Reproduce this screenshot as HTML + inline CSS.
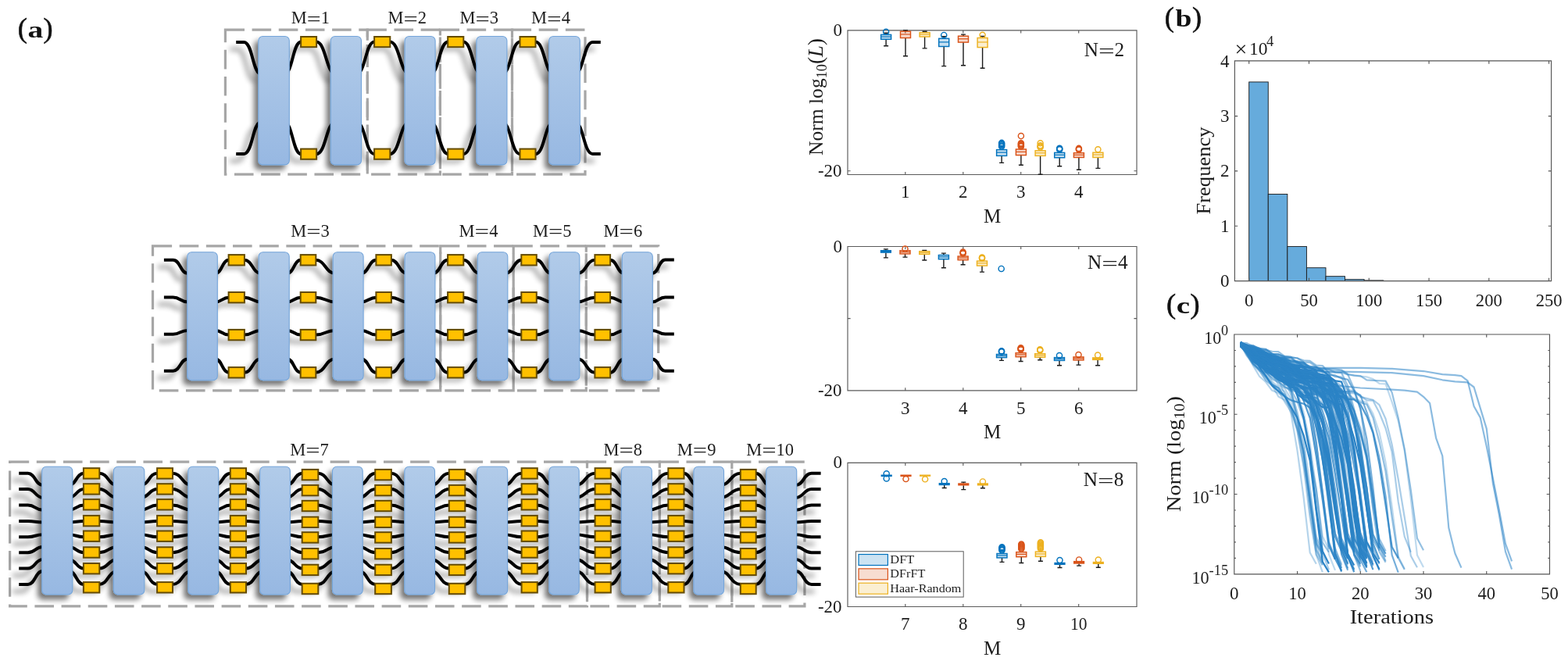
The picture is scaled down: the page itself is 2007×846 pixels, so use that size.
<!DOCTYPE html>
<html lang="en"><head><meta charset="utf-8"><title>Figure</title>
<style>html,body{margin:0;padding:0;background:#fff;overflow:hidden}svg{display:block}text{font-family:"Liberation Serif", serif}</style>
</head><body>
<svg width="2007" height="846" viewBox="0 0 2007 846">
<defs>
<linearGradient id="bl" x1="0" y1="0" x2="0" y2="1"><stop offset="0" stop-color="#b1cbe9"/><stop offset="1" stop-color="#97b8e2"/></linearGradient>
<filter id="shw" x="-5%" y="-10%" width="110%" height="125%"><feGaussianBlur in="SourceAlpha" stdDeviation="3.9"/><feOffset dx="-8.4" dy="9.2"/><feComponentTransfer><feFuncA type="linear" slope="0.45"/></feComponentTransfer><feMerge><feMergeNode/><feMergeNode in="SourceGraphic"/></feMerge></filter>
<filter id="shr" x="-5%" y="-10%" width="110%" height="125%"><feGaussianBlur in="SourceAlpha" stdDeviation="3.7"/><feOffset dx="-5.2" dy="6"/><feComponentTransfer><feFuncA type="linear" slope="0.55"/></feComponentTransfer><feMerge><feMergeNode/><feMergeNode in="SourceGraphic"/></feMerge></filter>
</defs>
<rect width="2007" height="846" fill="#fff"/>
<g id="n2-frames" fill="none" stroke="#a6a6a6" stroke-width="3.2" stroke-dasharray="24.6 9.57">
<rect x="288.4" y="38.2" width="181.9" height="184.9"/>
<rect x="470.3" y="38.2" width="93.1" height="184.9"/>
<rect x="563.4" y="38.2" width="92.1" height="184.9"/>
<rect x="655.5" y="38.2" width="93.5" height="184.9"/>
</g>
<g id="n2-wires" filter="url(#shw)" fill="none" stroke="#000" stroke-width="4">
<path d="M302.2 54 H312.3 C323.3 54 323.3 94.8 334.3 94.8"/>
<path d="M363.8 94.8 C374.6 94.8 374.6 53.6 385.4 53.6 H404.8 C417.3 53.6 417.3 94.8 429.8 94.8"/>
<path d="M456 94.8 C467.7 94.8 467.7 53.6 479.4 53.6 H499 C511.8 53.6 511.8 94.8 524.6 94.8"/>
<path d="M550.6 94.8 C562.05 94.8 562.05 53.6 573.5 53.6 H593 C604.7 53.6 604.7 94.8 616.4 94.8"/>
<path d="M642.4 94.8 C654.1 94.8 654.1 53.6 665.8 53.6 H685.2 C697.2 53.6 697.2 94.8 709.2 94.8"/>
<path d="M735.3 94.8 C746.95 94.8 746.95 54 758.6 54 H768.8"/>
<path d="M302.2 196.9 H312.3 C323.3 196.9 323.3 156 334.3 156"/>
<path d="M363.8 156 C374.6 156 374.6 197.2 385.4 197.2 H404.8 C417.3 197.2 417.3 156 429.8 156"/>
<path d="M456 156 C467.7 156 467.7 197.2 479.4 197.2 H499 C511.8 197.2 511.8 156 524.6 156"/>
<path d="M550.6 156 C562.05 156 562.05 197.2 573.5 197.2 H593 C604.7 197.2 604.7 156 616.4 156"/>
<path d="M642.4 156 C654.1 156 654.1 197.2 665.8 197.2 H685.2 C697.2 197.2 697.2 156 709.2 156"/>
<path d="M735.3 156 C746.95 156 746.95 196.9 758.6 196.9 H768.8"/>
</g>
<g id="n2-blocks" filter="url(#shr)" fill="url(#bl)" stroke="#74a5da" stroke-width="1.1">
<rect x="330.8" y="46.5" width="39.5" height="164.4" rx="5.5" ry="5.5"/>
<rect x="423.3" y="46.5" width="39.2" height="164.4" rx="5.5" ry="5.5"/>
<rect x="518.1" y="46.5" width="39" height="164.4" rx="5.5" ry="5.5"/>
<rect x="609.9" y="46.5" width="39" height="164.4" rx="5.5" ry="5.5"/>
<rect x="702.7" y="46.5" width="39.6" height="164.4" rx="5.5" ry="5.5"/>
</g>
<g id="n2-phase" fill="#ffc000" stroke="#644b00" stroke-width="2">
<rect x="385.1" y="47" width="20" height="13.2"/>
<rect x="385.1" y="190.6" width="20" height="13.2"/>
<rect x="479.1" y="47" width="20.2" height="13.2"/>
<rect x="479.1" y="190.6" width="20.2" height="13.2"/>
<rect x="573.2" y="47" width="20.1" height="13.2"/>
<rect x="573.2" y="190.6" width="20.1" height="13.2"/>
<rect x="665.5" y="47" width="20" height="13.2"/>
<rect x="665.5" y="190.6" width="20" height="13.2"/>
</g>
<text x="372.82" y="29.9" font-size="22.5" fill="#1c1c1c">M<tspan dy="1.69" textLength="17.9" lengthAdjust="spacingAndGlyphs">=</tspan><tspan dy="-1.69">1</tspan></text>
<text x="496.43" y="29.9" font-size="22.5" fill="#1c1c1c">M<tspan dy="1.69" textLength="18.3" lengthAdjust="spacingAndGlyphs">=</tspan><tspan dy="-1.69">2</tspan></text>
<text x="588.52" y="29.9" font-size="22.5" fill="#1c1c1c">M<tspan dy="1.69" textLength="18.3" lengthAdjust="spacingAndGlyphs">=</tspan><tspan dy="-1.69">3</tspan></text>
<text x="680.08" y="29.9" font-size="22.5" fill="#1c1c1c">M<tspan dy="1.69" textLength="18.6" lengthAdjust="spacingAndGlyphs">=</tspan><tspan dy="-1.69">4</tspan></text>
<g id="n4-frames" fill="none" stroke="#a6a6a6" stroke-width="3.2" stroke-dasharray="24.6 9.57">
<rect x="195.5" y="314.9" width="368.2" height="184.9"/>
<rect x="563.7" y="314.9" width="93.5" height="184.9"/>
<rect x="657.2" y="314.9" width="93.1" height="184.9"/>
<rect x="750.3" y="314.9" width="92.4" height="184.9"/>
</g>
<g id="n4-wires" filter="url(#shw)" fill="none" stroke="#000" stroke-width="4">
<path d="M209.9 332.7 H221.5 C230.85 332.7 230.85 349.8 240.2 349.8"/>
<path d="M275.6 349.8 C284.25 349.8 284.25 332.8 292.9 332.8 H312.6 C323.2 332.8 323.2 349.8 333.8 349.8"/>
<path d="M367.5 349.8 C376.25 349.8 376.25 332.8 385 332.8 H404 C416.45 332.8 416.45 349.8 428.9 349.8"/>
<path d="M462.4 349.8 C472.05 349.8 472.05 332.8 481.7 332.8 H500.6 C510.7 332.8 510.7 349.8 520.8 349.8"/>
<path d="M554.2 349.8 C563.8 349.8 563.8 332.8 573.4 332.8 H593 C603.5 332.8 603.5 349.8 614 349.8"/>
<path d="M647.1 349.8 C657.35 349.8 657.35 332.8 667.6 332.8 H686.5 C696.1 332.8 696.1 349.8 705.7 349.8"/>
<path d="M739.1 349.8 C750.4 349.8 750.4 332.8 761.7 332.8 H780.8 C789.9 332.8 789.9 349.8 799 349.8"/>
<path d="M834.8 349.8 C843.15 349.8 843.15 332.5 851.5 332.5 H862.8"/>
<path d="M209.9 380.6 H221.5 C230.85 380.6 230.85 386.4 240.2 386.4"/>
<path d="M275.6 386.4 C284.25 386.4 284.25 380.7 292.9 380.7 H312.6 C323.2 380.7 323.2 386.4 333.8 386.4"/>
<path d="M367.5 386.4 C376.25 386.4 376.25 380.7 385 380.7 H404 C416.45 380.7 416.45 386.4 428.9 386.4"/>
<path d="M462.4 386.4 C472.05 386.4 472.05 380.7 481.7 380.7 H500.6 C510.7 380.7 510.7 386.4 520.8 386.4"/>
<path d="M554.2 386.4 C563.8 386.4 563.8 380.7 573.4 380.7 H593 C603.5 380.7 603.5 386.4 614 386.4"/>
<path d="M647.1 386.4 C657.35 386.4 657.35 380.7 667.6 380.7 H686.5 C696.1 380.7 696.1 386.4 705.7 386.4"/>
<path d="M739.1 386.4 C750.4 386.4 750.4 380.7 761.7 380.7 H780.8 C789.9 380.7 789.9 386.4 799 386.4"/>
<path d="M834.8 386.4 C843.15 386.4 843.15 380.4 851.5 380.4 H862.8"/>
<path d="M209.9 427.7 H221.5 C230.85 427.7 230.85 422.9 240.2 422.9"/>
<path d="M275.6 422.9 C284.25 422.9 284.25 428.6 292.9 428.6 H312.6 C323.2 428.6 323.2 422.9 333.8 422.9"/>
<path d="M367.5 422.9 C376.25 422.9 376.25 428.6 385 428.6 H404 C416.45 428.6 416.45 422.9 428.9 422.9"/>
<path d="M462.4 422.9 C472.05 422.9 472.05 428.6 481.7 428.6 H500.6 C510.7 428.6 510.7 422.9 520.8 422.9"/>
<path d="M554.2 422.9 C563.8 422.9 563.8 428.6 573.4 428.6 H593 C603.5 428.6 603.5 422.9 614 422.9"/>
<path d="M647.1 422.9 C657.35 422.9 657.35 428.6 667.6 428.6 H686.5 C696.1 428.6 696.1 422.9 705.7 422.9"/>
<path d="M739.1 422.9 C750.4 422.9 750.4 428.6 761.7 428.6 H780.8 C789.9 428.6 789.9 422.9 799 422.9"/>
<path d="M834.8 422.9 C843.15 422.9 843.15 427.5 851.5 427.5 H862.8"/>
<path d="M209.9 474.7 H221.5 C230.85 474.7 230.85 459.4 240.2 459.4"/>
<path d="M275.6 459.4 C284.25 459.4 284.25 476.8 292.9 476.8 H312.6 C323.2 476.8 323.2 459.4 333.8 459.4"/>
<path d="M367.5 459.4 C376.25 459.4 376.25 476.8 385 476.8 H404 C416.45 476.8 416.45 459.4 428.9 459.4"/>
<path d="M462.4 459.4 C472.05 459.4 472.05 476.8 481.7 476.8 H500.6 C510.7 476.8 510.7 459.4 520.8 459.4"/>
<path d="M554.2 459.4 C563.8 459.4 563.8 476.8 573.4 476.8 H593 C603.5 476.8 603.5 459.4 614 459.4"/>
<path d="M647.1 459.4 C657.35 459.4 657.35 476.8 667.6 476.8 H686.5 C696.1 476.8 696.1 459.4 705.7 459.4"/>
<path d="M739.1 459.4 C750.4 459.4 750.4 476.8 761.7 476.8 H780.8 C789.9 476.8 789.9 459.4 799 459.4"/>
<path d="M834.8 459.4 C843.15 459.4 843.15 474.8 851.5 474.8 H862.8"/>
</g>
<g id="n4-blocks" filter="url(#shr)" fill="url(#bl)" stroke="#74a5da" stroke-width="1.1">
<rect x="239.7" y="322.8" width="38.6" height="163.9" rx="5.5" ry="5.5"/>
<rect x="331.1" y="322.8" width="39.1" height="163.9" rx="5.5" ry="5.5"/>
<rect x="426.2" y="322.8" width="38.9" height="163.9" rx="5.5" ry="5.5"/>
<rect x="518.1" y="322.8" width="38.8" height="163.9" rx="5.5" ry="5.5"/>
<rect x="611.3" y="322.8" width="38.5" height="163.9" rx="5.5" ry="5.5"/>
<rect x="703" y="322.8" width="38.8" height="163.9" rx="5.5" ry="5.5"/>
<rect x="796.3" y="322.8" width="39" height="163.9" rx="5.5" ry="5.5"/>
</g>
<g id="n4-phase" fill="#ffc000" stroke="#644b00" stroke-width="2">
<rect x="292.6" y="326.1" width="20.3" height="13.4"/>
<rect x="292.6" y="374" width="20.3" height="13.4"/>
<rect x="292.6" y="421.9" width="20.3" height="13.4"/>
<rect x="292.6" y="470.1" width="20.3" height="13.4"/>
<rect x="384.7" y="326.1" width="19.6" height="13.4"/>
<rect x="384.7" y="374" width="19.6" height="13.4"/>
<rect x="384.7" y="421.9" width="19.6" height="13.4"/>
<rect x="384.7" y="470.1" width="19.6" height="13.4"/>
<rect x="481.4" y="326.1" width="19.5" height="13.4"/>
<rect x="481.4" y="374" width="19.5" height="13.4"/>
<rect x="481.4" y="421.9" width="19.5" height="13.4"/>
<rect x="481.4" y="470.1" width="19.5" height="13.4"/>
<rect x="573.1" y="326.1" width="20.2" height="13.4"/>
<rect x="573.1" y="374" width="20.2" height="13.4"/>
<rect x="573.1" y="421.9" width="20.2" height="13.4"/>
<rect x="573.1" y="470.1" width="20.2" height="13.4"/>
<rect x="667.3" y="326.1" width="19.5" height="13.4"/>
<rect x="667.3" y="374" width="19.5" height="13.4"/>
<rect x="667.3" y="421.9" width="19.5" height="13.4"/>
<rect x="667.3" y="470.1" width="19.5" height="13.4"/>
<rect x="761.4" y="326.1" width="19.7" height="13.4"/>
<rect x="761.4" y="374" width="19.7" height="13.4"/>
<rect x="761.4" y="421.9" width="19.7" height="13.4"/>
<rect x="761.4" y="470.1" width="19.7" height="13.4"/>
</g>
<text x="372.23" y="302.6" font-size="22.5" fill="#1c1c1c">M<tspan dy="1.69" textLength="18.3" lengthAdjust="spacingAndGlyphs">=</tspan><tspan dy="-1.69">3</tspan></text>
<text x="587.58" y="302.6" font-size="22.5" fill="#1c1c1c">M<tspan dy="1.69" textLength="18.6" lengthAdjust="spacingAndGlyphs">=</tspan><tspan dy="-1.69">4</tspan></text>
<text x="681.93" y="302.6" font-size="22.5" fill="#1c1c1c">M<tspan dy="1.69" textLength="18.3" lengthAdjust="spacingAndGlyphs">=</tspan><tspan dy="-1.69">5</tspan></text>
<text x="772.62" y="302.6" font-size="22.5" fill="#1c1c1c">M<tspan dy="1.69" textLength="18.3" lengthAdjust="spacingAndGlyphs">=</tspan><tspan dy="-1.69">6</tspan></text>
<g id="n8-frames" fill="none" stroke="#a6a6a6" stroke-width="3.2" stroke-dasharray="24.6 9.57">
<rect x="12.6" y="591.2" width="738.9" height="184.6"/>
<rect x="751.5" y="591.2" width="92.8" height="184.6"/>
<rect x="844.3" y="591.2" width="92.5" height="184.6"/>
<rect x="936.8" y="591.2" width="93.1" height="184.6"/>
</g>
<g id="n8-wires" filter="url(#shw)" fill="none" stroke="#000" stroke-width="4">
<path d="M24.2 605.7 H35.7 C45.2 605.7 45.2 621 54.7 621"/>
<path d="M88.1 621 C97.65 621 97.65 605.7 107.2 605.7 H127 C138.55 605.7 138.55 621 150.1 621"/>
<path d="M180.1 621 C190.75 621 190.75 605.7 201.4 605.7 H220.7 C233.1 605.7 233.1 621 245.5 621"/>
<path d="M275 621 C285.05 621 285.05 605.7 295.1 605.7 H314.7 C326.05 605.7 326.05 621 337.4 621"/>
<path d="M366.7 621 C376.85 621 376.85 605.7 387 605.7 H407 C418.6 605.7 418.6 621 430.2 621"/>
<path d="M459.5 621 C470 621 470 605.7 480.5 605.7 H500.6 C511.55 605.7 511.55 621 522.5 621"/>
<path d="M551.8 621 C563.45 621 563.45 605.7 575.1 605.7 H595 C605.2 605.7 605.2 621 615.4 621"/>
<path d="M644.9 621 C656.4 621 656.4 605.7 667.9 605.7 H687.5 C697.55 605.7 697.55 621 707.6 621"/>
<path d="M736.5 621 C749.2 621 749.2 605.7 761.9 605.7 H781.5 C790.8 605.7 790.8 621 800.1 621"/>
<path d="M829.6 621 C842.6 621 842.6 605.7 855.6 605.7 H875.2 C883.9 605.7 883.9 621 892.6 621"/>
<path d="M921.8 621 C934.95 621 934.95 605.7 948.1 605.7 H967.4 C976.4 605.7 976.4 621 985.4 621"/>
<path d="M1018.7 621 C1028.7 621 1028.7 605.7 1038.7 605.7 H1050.6"/>
<path d="M24.2 626.1 H35.7 C45.2 626.1 45.2 636.9 54.7 636.9"/>
<path d="M88.1 636.9 C97.65 636.9 97.65 626.1 107.2 626.1 H127 C138.55 626.1 138.55 636.9 150.1 636.9"/>
<path d="M180.1 636.9 C190.75 636.9 190.75 626.1 201.4 626.1 H220.7 C233.1 626.1 233.1 636.9 245.5 636.9"/>
<path d="M275 636.9 C285.05 636.9 285.05 626.1 295.1 626.1 H314.7 C326.05 626.1 326.05 636.9 337.4 636.9"/>
<path d="M366.7 636.9 C376.85 636.9 376.85 626.1 387 626.1 H407 C418.6 626.1 418.6 636.9 430.2 636.9"/>
<path d="M459.5 636.9 C470 636.9 470 626.1 480.5 626.1 H500.6 C511.55 626.1 511.55 636.9 522.5 636.9"/>
<path d="M551.8 636.9 C563.45 636.9 563.45 626.1 575.1 626.1 H595 C605.2 626.1 605.2 636.9 615.4 636.9"/>
<path d="M644.9 636.9 C656.4 636.9 656.4 626.1 667.9 626.1 H687.5 C697.55 626.1 697.55 636.9 707.6 636.9"/>
<path d="M736.5 636.9 C749.2 636.9 749.2 626.1 761.9 626.1 H781.5 C790.8 626.1 790.8 636.9 800.1 636.9"/>
<path d="M829.6 636.9 C842.6 636.9 842.6 626.1 855.6 626.1 H875.2 C883.9 626.1 883.9 636.9 892.6 636.9"/>
<path d="M921.8 636.9 C934.95 636.9 934.95 626.1 948.1 626.1 H967.4 C976.4 626.1 976.4 636.9 985.4 636.9"/>
<path d="M1018.7 636.9 C1028.7 636.9 1028.7 626.1 1038.7 626.1 H1050.6"/>
<path d="M24.2 646.5 H35.7 C45.2 646.5 45.2 652.7 54.7 652.7"/>
<path d="M88.1 652.7 C97.65 652.7 97.65 646.5 107.2 646.5 H127 C138.55 646.5 138.55 652.7 150.1 652.7"/>
<path d="M180.1 652.7 C190.75 652.7 190.75 646.5 201.4 646.5 H220.7 C233.1 646.5 233.1 652.7 245.5 652.7"/>
<path d="M275 652.7 C285.05 652.7 285.05 646.5 295.1 646.5 H314.7 C326.05 646.5 326.05 652.7 337.4 652.7"/>
<path d="M366.7 652.7 C376.85 652.7 376.85 646.5 387 646.5 H407 C418.6 646.5 418.6 652.7 430.2 652.7"/>
<path d="M459.5 652.7 C470 652.7 470 646.5 480.5 646.5 H500.6 C511.55 646.5 511.55 652.7 522.5 652.7"/>
<path d="M551.8 652.7 C563.45 652.7 563.45 646.5 575.1 646.5 H595 C605.2 646.5 605.2 652.7 615.4 652.7"/>
<path d="M644.9 652.7 C656.4 652.7 656.4 646.5 667.9 646.5 H687.5 C697.55 646.5 697.55 652.7 707.6 652.7"/>
<path d="M736.5 652.7 C749.2 652.7 749.2 646.5 761.9 646.5 H781.5 C790.8 646.5 790.8 652.7 800.1 652.7"/>
<path d="M829.6 652.7 C842.6 652.7 842.6 646.5 855.6 646.5 H875.2 C883.9 646.5 883.9 652.7 892.6 652.7"/>
<path d="M921.8 652.7 C934.95 652.7 934.95 646.5 948.1 646.5 H967.4 C976.4 646.5 976.4 652.7 985.4 652.7"/>
<path d="M1018.7 652.7 C1028.7 652.7 1028.7 646.5 1038.7 646.5 H1050.6"/>
<path d="M24.2 666.9 H35.7 C45.2 666.9 45.2 668.5 54.7 668.5"/>
<path d="M88.1 668.5 C97.65 668.5 97.65 666.9 107.2 666.9 H127 C138.55 666.9 138.55 668.5 150.1 668.5"/>
<path d="M180.1 668.5 C190.75 668.5 190.75 666.9 201.4 666.9 H220.7 C233.1 666.9 233.1 668.5 245.5 668.5"/>
<path d="M275 668.5 C285.05 668.5 285.05 666.9 295.1 666.9 H314.7 C326.05 666.9 326.05 668.5 337.4 668.5"/>
<path d="M366.7 668.5 C376.85 668.5 376.85 666.9 387 666.9 H407 C418.6 666.9 418.6 668.5 430.2 668.5"/>
<path d="M459.5 668.5 C470 668.5 470 666.9 480.5 666.9 H500.6 C511.55 666.9 511.55 668.5 522.5 668.5"/>
<path d="M551.8 668.5 C563.45 668.5 563.45 666.9 575.1 666.9 H595 C605.2 666.9 605.2 668.5 615.4 668.5"/>
<path d="M644.9 668.5 C656.4 668.5 656.4 666.9 667.9 666.9 H687.5 C697.55 666.9 697.55 668.5 707.6 668.5"/>
<path d="M736.5 668.5 C749.2 668.5 749.2 666.9 761.9 666.9 H781.5 C790.8 666.9 790.8 668.5 800.1 668.5"/>
<path d="M829.6 668.5 C842.6 668.5 842.6 666.9 855.6 666.9 H875.2 C883.9 666.9 883.9 668.5 892.6 668.5"/>
<path d="M921.8 668.5 C934.95 668.5 934.95 666.9 948.1 666.9 H967.4 C976.4 666.9 976.4 668.5 985.4 668.5"/>
<path d="M1018.7 668.5 C1028.7 668.5 1028.7 666.9 1038.7 666.9 H1050.6"/>
<path d="M24.2 687.2 H35.7 C45.2 687.2 45.2 684.3 54.7 684.3"/>
<path d="M88.1 684.3 C97.65 684.3 97.65 687.2 107.2 687.2 H127 C138.55 687.2 138.55 684.3 150.1 684.3"/>
<path d="M180.1 684.3 C190.75 684.3 190.75 687.2 201.4 687.2 H220.7 C233.1 687.2 233.1 684.3 245.5 684.3"/>
<path d="M275 684.3 C285.05 684.3 285.05 687.2 295.1 687.2 H314.7 C326.05 687.2 326.05 684.3 337.4 684.3"/>
<path d="M366.7 684.3 C376.85 684.3 376.85 687.2 387 687.2 H407 C418.6 687.2 418.6 684.3 430.2 684.3"/>
<path d="M459.5 684.3 C470 684.3 470 687.2 480.5 687.2 H500.6 C511.55 687.2 511.55 684.3 522.5 684.3"/>
<path d="M551.8 684.3 C563.45 684.3 563.45 687.2 575.1 687.2 H595 C605.2 687.2 605.2 684.3 615.4 684.3"/>
<path d="M644.9 684.3 C656.4 684.3 656.4 687.2 667.9 687.2 H687.5 C697.55 687.2 697.55 684.3 707.6 684.3"/>
<path d="M736.5 684.3 C749.2 684.3 749.2 687.2 761.9 687.2 H781.5 C790.8 687.2 790.8 684.3 800.1 684.3"/>
<path d="M829.6 684.3 C842.6 684.3 842.6 687.2 855.6 687.2 H875.2 C883.9 687.2 883.9 684.3 892.6 684.3"/>
<path d="M921.8 684.3 C934.95 684.3 934.95 687.2 948.1 687.2 H967.4 C976.4 687.2 976.4 684.3 985.4 684.3"/>
<path d="M1018.7 684.3 C1028.7 684.3 1028.7 687.2 1038.7 687.2 H1050.6"/>
<path d="M24.2 707.2 H35.7 C45.2 707.2 45.2 700.1 54.7 700.1"/>
<path d="M88.1 700.1 C97.65 700.1 97.65 707.2 107.2 707.2 H127 C138.55 707.2 138.55 700.1 150.1 700.1"/>
<path d="M180.1 700.1 C190.75 700.1 190.75 707.2 201.4 707.2 H220.7 C233.1 707.2 233.1 700.1 245.5 700.1"/>
<path d="M275 700.1 C285.05 700.1 285.05 707.2 295.1 707.2 H314.7 C326.05 707.2 326.05 700.1 337.4 700.1"/>
<path d="M366.7 700.1 C376.85 700.1 376.85 707.2 387 707.2 H407 C418.6 707.2 418.6 700.1 430.2 700.1"/>
<path d="M459.5 700.1 C470 700.1 470 707.2 480.5 707.2 H500.6 C511.55 707.2 511.55 700.1 522.5 700.1"/>
<path d="M551.8 700.1 C563.45 700.1 563.45 707.2 575.1 707.2 H595 C605.2 707.2 605.2 700.1 615.4 700.1"/>
<path d="M644.9 700.1 C656.4 700.1 656.4 707.2 667.9 707.2 H687.5 C697.55 707.2 697.55 700.1 707.6 700.1"/>
<path d="M736.5 700.1 C749.2 700.1 749.2 707.2 761.9 707.2 H781.5 C790.8 707.2 790.8 700.1 800.1 700.1"/>
<path d="M829.6 700.1 C842.6 700.1 842.6 707.2 855.6 707.2 H875.2 C883.9 707.2 883.9 700.1 892.6 700.1"/>
<path d="M921.8 700.1 C934.95 700.1 934.95 707.2 948.1 707.2 H967.4 C976.4 707.2 976.4 700.1 985.4 700.1"/>
<path d="M1018.7 700.1 C1028.7 700.1 1028.7 707.2 1038.7 707.2 H1050.6"/>
<path d="M24.2 727.6 H35.7 C45.2 727.6 45.2 715.9 54.7 715.9"/>
<path d="M88.1 715.9 C97.65 715.9 97.65 727.6 107.2 727.6 H127 C138.55 727.6 138.55 715.9 150.1 715.9"/>
<path d="M180.1 715.9 C190.75 715.9 190.75 727.6 201.4 727.6 H220.7 C233.1 727.6 233.1 715.9 245.5 715.9"/>
<path d="M275 715.9 C285.05 715.9 285.05 727.6 295.1 727.6 H314.7 C326.05 727.6 326.05 715.9 337.4 715.9"/>
<path d="M366.7 715.9 C376.85 715.9 376.85 727.6 387 727.6 H407 C418.6 727.6 418.6 715.9 430.2 715.9"/>
<path d="M459.5 715.9 C470 715.9 470 727.6 480.5 727.6 H500.6 C511.55 727.6 511.55 715.9 522.5 715.9"/>
<path d="M551.8 715.9 C563.45 715.9 563.45 727.6 575.1 727.6 H595 C605.2 727.6 605.2 715.9 615.4 715.9"/>
<path d="M644.9 715.9 C656.4 715.9 656.4 727.6 667.9 727.6 H687.5 C697.55 727.6 697.55 715.9 707.6 715.9"/>
<path d="M736.5 715.9 C749.2 715.9 749.2 727.6 761.9 727.6 H781.5 C790.8 727.6 790.8 715.9 800.1 715.9"/>
<path d="M829.6 715.9 C842.6 715.9 842.6 727.6 855.6 727.6 H875.2 C883.9 727.6 883.9 715.9 892.6 715.9"/>
<path d="M921.8 715.9 C934.95 715.9 934.95 727.6 948.1 727.6 H967.4 C976.4 727.6 976.4 715.9 985.4 715.9"/>
<path d="M1018.7 715.9 C1028.7 715.9 1028.7 727.6 1038.7 727.6 H1050.6"/>
<path d="M24.2 747.9 H35.7 C45.2 747.9 45.2 731 54.7 731"/>
<path d="M88.1 731 C97.65 731 97.65 747.9 107.2 747.9 H127 C138.55 747.9 138.55 731 150.1 731"/>
<path d="M180.1 731 C190.75 731 190.75 747.9 201.4 747.9 H220.7 C233.1 747.9 233.1 731 245.5 731"/>
<path d="M275 731 C285.05 731 285.05 747.9 295.1 747.9 H314.7 C326.05 747.9 326.05 731 337.4 731"/>
<path d="M366.7 731 C376.85 731 376.85 747.9 387 747.9 H407 C418.6 747.9 418.6 731 430.2 731"/>
<path d="M459.5 731 C470 731 470 747.9 480.5 747.9 H500.6 C511.55 747.9 511.55 731 522.5 731"/>
<path d="M551.8 731 C563.45 731 563.45 747.9 575.1 747.9 H595 C605.2 747.9 605.2 731 615.4 731"/>
<path d="M644.9 731 C656.4 731 656.4 747.9 667.9 747.9 H687.5 C697.55 747.9 697.55 731 707.6 731"/>
<path d="M736.5 731 C749.2 731 749.2 747.9 761.9 747.9 H781.5 C790.8 747.9 790.8 731 800.1 731"/>
<path d="M829.6 731 C842.6 731 842.6 747.9 855.6 747.9 H875.2 C883.9 747.9 883.9 731 892.6 731"/>
<path d="M921.8 731 C934.95 731 934.95 747.9 948.1 747.9 H967.4 C976.4 747.9 976.4 731 985.4 731"/>
<path d="M1018.7 731 C1028.7 731 1028.7 747.9 1038.7 747.9 H1050.6"/>
</g>
<g id="n8-blocks" filter="url(#shr)" fill="url(#bl)" stroke="#74a5da" stroke-width="1.1">
<rect x="53.7" y="597.2" width="39.1" height="163.8" rx="5.5" ry="5.5"/>
<rect x="145.4" y="597.2" width="39.4" height="163.8" rx="5.5" ry="5.5"/>
<rect x="240.8" y="597.2" width="38.9" height="163.8" rx="5.5" ry="5.5"/>
<rect x="332.7" y="597.2" width="38.7" height="163.8" rx="5.5" ry="5.5"/>
<rect x="425.5" y="597.2" width="38.7" height="163.8" rx="5.5" ry="5.5"/>
<rect x="517.8" y="597.2" width="38.7" height="163.8" rx="5.5" ry="5.5"/>
<rect x="610.7" y="597.2" width="38.9" height="163.8" rx="5.5" ry="5.5"/>
<rect x="702.9" y="597.2" width="38.3" height="163.8" rx="5.5" ry="5.5"/>
<rect x="795.4" y="597.2" width="38.9" height="163.8" rx="5.5" ry="5.5"/>
<rect x="887.9" y="597.2" width="38.6" height="163.8" rx="5.5" ry="5.5"/>
<rect x="980.7" y="597.2" width="39" height="163.8" rx="5.5" ry="5.5"/>
</g>
<g id="n8-phase" fill="#ffc000" stroke="#644b00" stroke-width="2">
<rect x="106.9" y="599.2" width="20.4" height="13.4"/>
<rect x="106.9" y="619.2" width="20.4" height="13.4"/>
<rect x="106.9" y="639.1" width="20.4" height="13.4"/>
<rect x="106.9" y="659.9" width="20.4" height="13.4"/>
<rect x="106.9" y="679.5" width="20.4" height="13.4"/>
<rect x="106.9" y="700.3" width="20.4" height="13.4"/>
<rect x="106.9" y="721" width="20.4" height="13.4"/>
<rect x="106.9" y="745.1" width="20.4" height="13.4"/>
<rect x="201.1" y="599.2" width="19.9" height="13.4"/>
<rect x="201.1" y="619.2" width="19.9" height="13.4"/>
<rect x="201.1" y="639.1" width="19.9" height="13.4"/>
<rect x="201.1" y="659.9" width="19.9" height="13.4"/>
<rect x="201.1" y="679.5" width="19.9" height="13.4"/>
<rect x="201.1" y="700.3" width="19.9" height="13.4"/>
<rect x="201.1" y="721" width="19.9" height="13.4"/>
<rect x="201.1" y="745.1" width="19.9" height="13.4"/>
<rect x="294.8" y="599.2" width="20.2" height="13.4"/>
<rect x="294.8" y="619.2" width="20.2" height="13.4"/>
<rect x="294.8" y="639.1" width="20.2" height="13.4"/>
<rect x="294.8" y="659.9" width="20.2" height="13.4"/>
<rect x="294.8" y="679.5" width="20.2" height="13.4"/>
<rect x="294.8" y="700.3" width="20.2" height="13.4"/>
<rect x="294.8" y="721" width="20.2" height="13.4"/>
<rect x="294.8" y="745.1" width="20.2" height="13.4"/>
<rect x="386.7" y="600.9" width="20.6" height="13.4"/>
<rect x="386.7" y="620.9" width="20.6" height="13.4"/>
<rect x="386.7" y="640.8" width="20.6" height="13.4"/>
<rect x="386.7" y="661.6" width="20.6" height="13.4"/>
<rect x="386.7" y="681.2" width="20.6" height="13.4"/>
<rect x="386.7" y="702" width="20.6" height="13.4"/>
<rect x="386.7" y="722.7" width="20.6" height="13.4"/>
<rect x="386.7" y="746.8" width="20.6" height="13.4"/>
<rect x="480.2" y="600.9" width="20.7" height="13.4"/>
<rect x="480.2" y="620.9" width="20.7" height="13.4"/>
<rect x="480.2" y="640.8" width="20.7" height="13.4"/>
<rect x="480.2" y="661.6" width="20.7" height="13.4"/>
<rect x="480.2" y="681.2" width="20.7" height="13.4"/>
<rect x="480.2" y="702" width="20.7" height="13.4"/>
<rect x="480.2" y="722.7" width="20.7" height="13.4"/>
<rect x="480.2" y="746.8" width="20.7" height="13.4"/>
<rect x="574.8" y="600.9" width="20.5" height="13.4"/>
<rect x="574.8" y="620.9" width="20.5" height="13.4"/>
<rect x="574.8" y="640.8" width="20.5" height="13.4"/>
<rect x="574.8" y="661.6" width="20.5" height="13.4"/>
<rect x="574.8" y="681.2" width="20.5" height="13.4"/>
<rect x="574.8" y="702" width="20.5" height="13.4"/>
<rect x="574.8" y="722.7" width="20.5" height="13.4"/>
<rect x="574.8" y="746.8" width="20.5" height="13.4"/>
<rect x="667.6" y="599.2" width="20.2" height="13.4"/>
<rect x="667.6" y="619.2" width="20.2" height="13.4"/>
<rect x="667.6" y="639.1" width="20.2" height="13.4"/>
<rect x="667.6" y="659.9" width="20.2" height="13.4"/>
<rect x="667.6" y="679.5" width="20.2" height="13.4"/>
<rect x="667.6" y="700.3" width="20.2" height="13.4"/>
<rect x="667.6" y="721" width="20.2" height="13.4"/>
<rect x="667.6" y="745.1" width="20.2" height="13.4"/>
<rect x="761.6" y="599.2" width="20.2" height="13.4"/>
<rect x="761.6" y="619.2" width="20.2" height="13.4"/>
<rect x="761.6" y="639.1" width="20.2" height="13.4"/>
<rect x="761.6" y="659.9" width="20.2" height="13.4"/>
<rect x="761.6" y="679.5" width="20.2" height="13.4"/>
<rect x="761.6" y="700.3" width="20.2" height="13.4"/>
<rect x="761.6" y="721" width="20.2" height="13.4"/>
<rect x="761.6" y="745.1" width="20.2" height="13.4"/>
<rect x="855.3" y="599.2" width="20.2" height="13.4"/>
<rect x="855.3" y="619.2" width="20.2" height="13.4"/>
<rect x="855.3" y="639.1" width="20.2" height="13.4"/>
<rect x="855.3" y="659.9" width="20.2" height="13.4"/>
<rect x="855.3" y="679.5" width="20.2" height="13.4"/>
<rect x="855.3" y="700.3" width="20.2" height="13.4"/>
<rect x="855.3" y="721" width="20.2" height="13.4"/>
<rect x="855.3" y="745.1" width="20.2" height="13.4"/>
<rect x="947.8" y="600.9" width="19.9" height="13.4"/>
<rect x="947.8" y="620.9" width="19.9" height="13.4"/>
<rect x="947.8" y="640.8" width="19.9" height="13.4"/>
<rect x="947.8" y="661.6" width="19.9" height="13.4"/>
<rect x="947.8" y="681.2" width="19.9" height="13.4"/>
<rect x="947.8" y="702" width="19.9" height="13.4"/>
<rect x="947.8" y="722.7" width="19.9" height="13.4"/>
<rect x="947.8" y="746.8" width="19.9" height="13.4"/>
</g>
<text x="371.23" y="582.6" font-size="22.5" fill="#1c1c1c">M<tspan dy="1.69" textLength="18.3" lengthAdjust="spacingAndGlyphs">=</tspan><tspan dy="-1.69">7</tspan></text>
<text x="772.52" y="582.6" font-size="22.5" fill="#1c1c1c">M<tspan dy="1.69" textLength="18.3" lengthAdjust="spacingAndGlyphs">=</tspan><tspan dy="-1.69">8</tspan></text>
<text x="866.83" y="582.6" font-size="22.5" fill="#1c1c1c">M<tspan dy="1.69" textLength="18.3" lengthAdjust="spacingAndGlyphs">=</tspan><tspan dy="-1.69">9</tspan></text>
<text x="955.18" y="582.6" font-size="22.5" fill="#1c1c1c">M<tspan dy="1.69" textLength="18.35" lengthAdjust="spacingAndGlyphs">=</tspan><tspan dy="-1.69">10</tspan></text>
<g id="bp2">
<path d="M1085 38.8 H1455 V223.5 H1085 ZM1158.8 223.5 v-3.6M1158.8 38.8 v3.6M1232.8 223.5 v-3.6M1232.8 38.8 v3.6M1306.7 223.5 v-3.6M1306.7 38.8 v3.6M1380.7 223.5 v-3.6M1380.7 38.8 v3.6M1085 218.7 h3.6M1455 218.7 h-3.6" fill="none" stroke="#5a5a5a" stroke-width="1.15"/>
<path d="M1134.1 50.3 V58.7 M1131.1 58.7 h6M1134.1 44.4 V42.3 M1131.1 42.3 h6" fill="none" stroke="#1a1a1a" stroke-width="1.4"/>
<circle cx="1134.1" cy="40.7" r="3.55" fill="none" stroke="#0072bd" stroke-width="1.45"/>
<rect x="1127.6" y="44.4" width="13" height="5.9" fill="#0072bd" fill-opacity="0.22" stroke="#0072bd" stroke-width="1.45"/>
<path d="M1127.6 47.05h13" stroke="#0072bd" stroke-width="1.2"/>
<path d="M1159 48.5 V71.8 M1156 71.8 h6M1159 40.2 V38.8 M1156 38.8 h6" fill="none" stroke="#1a1a1a" stroke-width="1.4"/>
<rect x="1152.5" y="40.2" width="13" height="8.3" fill="#d95319" fill-opacity="0.22" stroke="#d95319" stroke-width="1.45"/>
<path d="M1152.5 43.94h13" stroke="#d95319" stroke-width="1.2"/>
<path d="M1183.6 47 V61.9 M1180.6 61.9 h6M1183.6 41.7 V40.2 M1180.6 40.2 h6" fill="none" stroke="#1a1a1a" stroke-width="1.4"/>
<rect x="1177.1" y="41.7" width="13" height="5.3" fill="#edb120" fill-opacity="0.22" stroke="#edb120" stroke-width="1.45"/>
<path d="M1177.1 44.09h13" stroke="#edb120" stroke-width="1.2"/>
<path d="M1208.2 59.5 V84.6 M1205.2 84.6 h6M1208.2 49.3 V46.7 M1205.2 46.7 h6" fill="none" stroke="#1a1a1a" stroke-width="1.4"/>
<circle cx="1208.2" cy="44.9" r="3.55" fill="none" stroke="#0072bd" stroke-width="1.45"/>
<rect x="1201.7" y="49.3" width="13" height="10.2" fill="#0072bd" fill-opacity="0.22" stroke="#0072bd" stroke-width="1.45"/>
<path d="M1201.7 53.89h13" stroke="#0072bd" stroke-width="1.2"/>
<path d="M1233 54.1 V83.8 M1230 83.8 h6M1233 46.2 V44.1 M1230 44.1 h6" fill="none" stroke="#1a1a1a" stroke-width="1.4"/>
<rect x="1226.5" y="46.2" width="13" height="7.9" fill="#d95319" fill-opacity="0.22" stroke="#d95319" stroke-width="1.45"/>
<path d="M1226.5 49.76h13" stroke="#d95319" stroke-width="1.2"/>
<path d="M1257.6 60.6 V87.2 M1254.6 87.2 h6M1257.6 48.5 V46.5 M1254.6 46.5 h6" fill="none" stroke="#1a1a1a" stroke-width="1.4"/>
<circle cx="1257.6" cy="44.7" r="3.55" fill="none" stroke="#edb120" stroke-width="1.45"/>
<rect x="1251.1" y="48.5" width="13" height="12.1" fill="#edb120" fill-opacity="0.22" stroke="#edb120" stroke-width="1.45"/>
<path d="M1251.1 53.95h13" stroke="#edb120" stroke-width="1.2"/>
<path d="M1282.1 199.4 V208.4 M1279.1 208.4 h6" fill="none" stroke="#1a1a1a" stroke-width="1.4"/>
<circle cx="1282.1" cy="182.9" r="3.55" fill="none" stroke="#0072bd" stroke-width="1.45"/>
<circle cx="1282.1" cy="184.07" r="3.55" fill="none" stroke="#0072bd" stroke-width="1.45"/>
<circle cx="1282.1" cy="185.25" r="3.55" fill="none" stroke="#0072bd" stroke-width="1.45"/>
<circle cx="1282.1" cy="186.43" r="3.55" fill="none" stroke="#0072bd" stroke-width="1.45"/>
<circle cx="1282.1" cy="187.6" r="3.55" fill="none" stroke="#0072bd" stroke-width="1.45"/>
<rect x="1275.6" y="191.6" width="13" height="7.8" fill="#0072bd" fill-opacity="0.22" stroke="#0072bd" stroke-width="1.45"/>
<path d="M1275.6 195.11h13" stroke="#0072bd" stroke-width="1.2"/>
<path d="M1306.9 198.6 V211.2 M1303.9 211.2 h6" fill="none" stroke="#1a1a1a" stroke-width="1.4"/>
<circle cx="1306.9" cy="174.1" r="3.55" fill="none" stroke="#d95319" stroke-width="1.45"/>
<circle cx="1306.9" cy="183.3" r="3.55" fill="none" stroke="#d95319" stroke-width="1.45"/>
<circle cx="1306.9" cy="184.33" r="3.55" fill="none" stroke="#d95319" stroke-width="1.45"/>
<circle cx="1306.9" cy="185.35" r="3.55" fill="none" stroke="#d95319" stroke-width="1.45"/>
<circle cx="1306.9" cy="186.38" r="3.55" fill="none" stroke="#d95319" stroke-width="1.45"/>
<circle cx="1306.9" cy="187.4" r="3.55" fill="none" stroke="#d95319" stroke-width="1.45"/>
<rect x="1300.4" y="191" width="13" height="7.6" fill="#d95319" fill-opacity="0.22" stroke="#d95319" stroke-width="1.45"/>
<path d="M1300.4 194.42h13" stroke="#d95319" stroke-width="1.2"/>
<path d="M1331.6 199.4 V223.3 M1328.6 223.3 h6" fill="none" stroke="#1a1a1a" stroke-width="1.4"/>
<circle cx="1331.6" cy="183.3" r="3.55" fill="none" stroke="#edb120" stroke-width="1.45"/>
<circle cx="1331.6" cy="186.3" r="3.55" fill="none" stroke="#edb120" stroke-width="1.45"/>
<circle cx="1331.6" cy="187.45" r="3.55" fill="none" stroke="#edb120" stroke-width="1.45"/>
<circle cx="1331.6" cy="188.6" r="3.55" fill="none" stroke="#edb120" stroke-width="1.45"/>
<rect x="1325.1" y="192.8" width="13" height="6.6" fill="#edb120" fill-opacity="0.22" stroke="#edb120" stroke-width="1.45"/>
<path d="M1325.1 195.77h13" stroke="#edb120" stroke-width="1.2"/>
<path d="M1356.2 201.8 V212.8 M1353.2 212.8 h6" fill="none" stroke="#1a1a1a" stroke-width="1.4"/>
<circle cx="1356.2" cy="189.8" r="3.55" fill="none" stroke="#0072bd" stroke-width="1.45"/>
<circle cx="1356.2" cy="190.6" r="3.55" fill="none" stroke="#0072bd" stroke-width="1.45"/>
<circle cx="1356.2" cy="191.4" r="3.55" fill="none" stroke="#0072bd" stroke-width="1.45"/>
<rect x="1349.7" y="195.4" width="13" height="6.4" fill="#0072bd" fill-opacity="0.22" stroke="#0072bd" stroke-width="1.45"/>
<path d="M1349.7 198.28h13" stroke="#0072bd" stroke-width="1.2"/>
<path d="M1380.9 201.5 V217.2 M1377.9 217.2 h6" fill="none" stroke="#1a1a1a" stroke-width="1.4"/>
<circle cx="1380.9" cy="189.9" r="3.55" fill="none" stroke="#d95319" stroke-width="1.45"/>
<circle cx="1380.9" cy="190.7" r="3.55" fill="none" stroke="#d95319" stroke-width="1.45"/>
<circle cx="1380.9" cy="191.5" r="3.55" fill="none" stroke="#d95319" stroke-width="1.45"/>
<rect x="1374.4" y="195.7" width="13" height="5.8" fill="#d95319" fill-opacity="0.22" stroke="#d95319" stroke-width="1.45"/>
<path d="M1374.4 198.31h13" stroke="#d95319" stroke-width="1.2"/>
<path d="M1405.4 201.5 V215.4 M1402.4 215.4 h6" fill="none" stroke="#1a1a1a" stroke-width="1.4"/>
<circle cx="1405.4" cy="191.2" r="3.55" fill="none" stroke="#edb120" stroke-width="1.45"/>
<rect x="1398.9" y="195.2" width="13" height="6.3" fill="#edb120" fill-opacity="0.22" stroke="#edb120" stroke-width="1.45"/>
<path d="M1398.9 198.03h13" stroke="#edb120" stroke-width="1.2"/>
<text x="1158.8" y="253.4" font-size="23" fill="#1c1c1c" text-anchor="middle">1</text>
<text x="1232.8" y="253.4" font-size="23" fill="#1c1c1c" text-anchor="middle">2</text>
<text x="1306.7" y="253.4" font-size="23" fill="#1c1c1c" text-anchor="middle">3</text>
<text x="1380.7" y="253.4" font-size="23" fill="#1c1c1c" text-anchor="middle">4</text>
<text x="1078" y="45.8" font-size="23" fill="#1c1c1c" text-anchor="end">0</text>
<text x="1077.4" y="225.7" font-size="23" fill="#1c1c1c" text-anchor="end" textLength="30.5" lengthAdjust="spacingAndGlyphs">-20</text>
<text x="1270.1" y="284.7" font-size="26" fill="#1c1c1c" text-anchor="middle" textLength="22.3" lengthAdjust="spacingAndGlyphs">M</text>
<text x="1387.69" y="71.9" font-size="25.2" fill="#1c1c1c">N<tspan dy="1.89" textLength="20.72" lengthAdjust="spacingAndGlyphs">=</tspan><tspan dy="-1.89">2</tspan></text>
</g>
<text transform="translate(1053.3 124) rotate(-90)" font-size="26" text-anchor="middle" fill="#1c1c1c" textLength="150" lengthAdjust="spacingAndGlyphs">Norm log<tspan font-size="18.5" dy="4.5">10</tspan><tspan dy="-4.5" font-size="28">(</tspan><tspan font-style="italic" font-size="27">L</tspan><tspan font-size="28">)</tspan></text>
<g id="bp4">
<path d="M1085 315.5 H1455 V499.8 H1085 ZM1158.8 499.8 v-3.6M1158.8 315.5 v3.6M1232.8 499.8 v-3.6M1232.8 315.5 v3.6M1306.7 499.8 v-3.6M1306.7 315.5 v3.6M1380.7 499.8 v-3.6M1380.7 315.5 v3.6M1085 407.65 h3.6M1455 407.65 h-3.6" fill="none" stroke="#5a5a5a" stroke-width="1.15"/>
<path d="M1133.9 323.6 V329.9 M1130.9 329.9 h6M1133.9 320.2 V318.9 M1130.9 318.9 h6" fill="none" stroke="#1a1a1a" stroke-width="1.4"/>
<rect x="1126.8" y="320" width="14.2" height="3.8" fill="#0072bd"/>
<path d="M1158.5 324.9 V329.1 M1155.5 329.1 h6" fill="none" stroke="#1a1a1a" stroke-width="1.4"/>
<circle cx="1158.5" cy="318.6" r="3.55" fill="none" stroke="#d95319" stroke-width="1.45"/>
<rect x="1152" y="320.7" width="13" height="4.2" fill="#d95319" fill-opacity="0.22" stroke="#d95319" stroke-width="1.45"/>
<path d="M1152 322.59h13" stroke="#d95319" stroke-width="1.2"/>
<path d="M1183.3 325.4 V333 M1180.3 333 h6M1183.3 321.7 V320.5 M1180.3 320.5 h6" fill="none" stroke="#1a1a1a" stroke-width="1.4"/>
<rect x="1176.8" y="321.7" width="13" height="3.7" fill="#edb120" fill-opacity="0.22" stroke="#edb120" stroke-width="1.45"/>
<path d="M1176.8 323.37h13" stroke="#edb120" stroke-width="1.2"/>
<path d="M1207.9 331.7 V342.7 M1204.9 342.7 h6M1207.9 326.5 V324.1 M1204.9 324.1 h6" fill="none" stroke="#1a1a1a" stroke-width="1.4"/>
<rect x="1201.4" y="326.5" width="13" height="5.2" fill="#0072bd" fill-opacity="0.22" stroke="#0072bd" stroke-width="1.45"/>
<path d="M1201.4 328.84h13" stroke="#0072bd" stroke-width="1.2"/>
<path d="M1232.6 332.7 V338.8 M1229.6 338.8 h6" fill="none" stroke="#1a1a1a" stroke-width="1.4"/>
<circle cx="1232.6" cy="322.6" r="3.55" fill="none" stroke="#d95319" stroke-width="1.45"/>
<circle cx="1232.6" cy="323.6" r="3.55" fill="none" stroke="#d95319" stroke-width="1.45"/>
<circle cx="1232.6" cy="324.6" r="3.55" fill="none" stroke="#d95319" stroke-width="1.45"/>
<rect x="1226.1" y="328" width="13" height="4.7" fill="#d95319" fill-opacity="0.22" stroke="#d95319" stroke-width="1.45"/>
<path d="M1226.1 330.12h13" stroke="#d95319" stroke-width="1.2"/>
<path d="M1257 340.1 V348.1 M1254 348.1 h6" fill="none" stroke="#1a1a1a" stroke-width="1.4"/>
<circle cx="1257" cy="329.4" r="3.55" fill="none" stroke="#edb120" stroke-width="1.45"/>
<circle cx="1257" cy="330.1" r="3.55" fill="none" stroke="#edb120" stroke-width="1.45"/>
<circle cx="1257" cy="330.8" r="3.55" fill="none" stroke="#edb120" stroke-width="1.45"/>
<rect x="1250.5" y="334.1" width="13" height="6" fill="#edb120" fill-opacity="0.22" stroke="#edb120" stroke-width="1.45"/>
<path d="M1250.5 336.8h13" stroke="#edb120" stroke-width="1.2"/>
<path d="M1282 457.6 V461.4 M1279 461.4 h6" fill="none" stroke="#1a1a1a" stroke-width="1.4"/>
<circle cx="1282" cy="449.2" r="3.55" fill="none" stroke="#0072bd" stroke-width="1.45"/>
<circle cx="1282" cy="449.8" r="3.55" fill="none" stroke="#0072bd" stroke-width="1.45"/>
<circle cx="1282" cy="450.4" r="3.55" fill="none" stroke="#0072bd" stroke-width="1.45"/>
<rect x="1275.5" y="453.5" width="13" height="4.1" fill="#0072bd" fill-opacity="0.22" stroke="#0072bd" stroke-width="1.45"/>
<path d="M1275.5 455.35h13" stroke="#0072bd" stroke-width="1.2"/>
<path d="M1306.6 456.7 V462.5 M1303.6 462.5 h6" fill="none" stroke="#1a1a1a" stroke-width="1.4"/>
<circle cx="1306.6" cy="445.2" r="3.55" fill="none" stroke="#d95319" stroke-width="1.45"/>
<circle cx="1306.6" cy="446" r="3.55" fill="none" stroke="#d95319" stroke-width="1.45"/>
<circle cx="1306.6" cy="446.8" r="3.55" fill="none" stroke="#d95319" stroke-width="1.45"/>
<circle cx="1306.6" cy="447.6" r="3.55" fill="none" stroke="#d95319" stroke-width="1.45"/>
<rect x="1300.1" y="451.7" width="13" height="5" fill="#d95319" fill-opacity="0.22" stroke="#d95319" stroke-width="1.45"/>
<path d="M1300.1 453.95h13" stroke="#d95319" stroke-width="1.2"/>
<path d="M1331.2 457.2 V460.8 M1328.2 460.8 h6" fill="none" stroke="#1a1a1a" stroke-width="1.4"/>
<circle cx="1331.2" cy="447.3" r="3.55" fill="none" stroke="#edb120" stroke-width="1.45"/>
<circle cx="1331.2" cy="447.95" r="3.55" fill="none" stroke="#edb120" stroke-width="1.45"/>
<circle cx="1331.2" cy="448.6" r="3.55" fill="none" stroke="#edb120" stroke-width="1.45"/>
<rect x="1324.7" y="452.7" width="13" height="4.5" fill="#edb120" fill-opacity="0.22" stroke="#edb120" stroke-width="1.45"/>
<path d="M1324.7 454.72h13" stroke="#edb120" stroke-width="1.2"/>
<path d="M1356 461.4 V467.7 M1353 467.7 h6" fill="none" stroke="#1a1a1a" stroke-width="1.4"/>
<circle cx="1356" cy="455.1" r="3.55" fill="none" stroke="#0072bd" stroke-width="1.45"/>
<rect x="1349.5" y="457.6" width="13" height="3.8" fill="#0072bd" fill-opacity="0.22" stroke="#0072bd" stroke-width="1.45"/>
<path d="M1349.5 459.31h13" stroke="#0072bd" stroke-width="1.2"/>
<path d="M1380.5 460.9 V467.1 M1377.5 467.1 h6" fill="none" stroke="#1a1a1a" stroke-width="1.4"/>
<circle cx="1380.5" cy="454.1" r="3.55" fill="none" stroke="#d95319" stroke-width="1.45"/>
<rect x="1374" y="456.9" width="13" height="4" fill="#d95319" fill-opacity="0.22" stroke="#d95319" stroke-width="1.45"/>
<path d="M1374 458.7h13" stroke="#d95319" stroke-width="1.2"/>
<path d="M1405.1 460.9 V467.7 M1402.1 467.7 h6" fill="none" stroke="#1a1a1a" stroke-width="1.4"/>
<circle cx="1405.1" cy="454.6" r="3.55" fill="none" stroke="#edb120" stroke-width="1.45"/>
<rect x="1398" y="457.2" width="14.2" height="3.9" fill="#edb120"/>
<circle cx="1281.7" cy="343.9" r="3.55" fill="none" stroke="#0072bd" stroke-width="1.45"/>
<text x="1158.8" y="529.7" font-size="23" fill="#1c1c1c" text-anchor="middle">3</text>
<text x="1232.8" y="529.7" font-size="23" fill="#1c1c1c" text-anchor="middle">4</text>
<text x="1306.7" y="529.7" font-size="23" fill="#1c1c1c" text-anchor="middle">5</text>
<text x="1380.7" y="529.7" font-size="23" fill="#1c1c1c" text-anchor="middle">6</text>
<text x="1078" y="322.5" font-size="23" fill="#1c1c1c" text-anchor="end">0</text>
<text x="1077.4" y="506.8" font-size="23" fill="#1c1c1c" text-anchor="end" textLength="30.5" lengthAdjust="spacingAndGlyphs">-20</text>
<text x="1270.1" y="561" font-size="26" fill="#1c1c1c" text-anchor="middle" textLength="22.3" lengthAdjust="spacingAndGlyphs">M</text>
<text x="1391.99" y="344.2" font-size="25.2" fill="#1c1c1c">N<tspan dy="1.89" textLength="20.72" lengthAdjust="spacingAndGlyphs">=</tspan><tspan dy="-1.89">4</tspan></text>
</g>
<g id="bp8">
<path d="M1085 592.3 H1455 V776.5 H1085 ZM1158.8 776.5 v-3.6M1158.8 592.3 v3.6M1232.8 776.5 v-3.6M1232.8 592.3 v3.6M1306.7 776.5 v-3.6M1306.7 592.3 v3.6M1380.7 776.5 v-3.6M1380.7 592.3 v3.6" fill="none" stroke="#5a5a5a" stroke-width="1.15"/>
<circle cx="1134.7" cy="606.2" r="3.55" fill="none" stroke="#0072bd" stroke-width="1.45"/>
<circle cx="1134.7" cy="612.4" r="3.55" fill="none" stroke="#0072bd" stroke-width="1.45"/>
<rect x="1127.6" y="607.5" width="14.2" height="2.5" fill="#0072bd"/>
<circle cx="1159.5" cy="613" r="3.55" fill="none" stroke="#d95319" stroke-width="1.45"/>
<rect x="1152.4" y="607.5" width="14.2" height="2.5" fill="#d95319"/>
<circle cx="1184.1" cy="613.3" r="3.55" fill="none" stroke="#edb120" stroke-width="1.45"/>
<rect x="1177" y="607.5" width="14.2" height="2.3" fill="#edb120"/>
<path d="M1208.7 621 V624.5 M1205.7 624.5 h6" fill="none" stroke="#1a1a1a" stroke-width="1.4"/>
<circle cx="1208.7" cy="616.1" r="3.55" fill="none" stroke="#0072bd" stroke-width="1.45"/>
<rect x="1201.6" y="618" width="14.2" height="3.2" fill="#0072bd"/>
<path d="M1233.3 621.3 V626.6 M1230.3 626.6 h6M1233.3 618.5 V617.1 M1230.3 617.1 h6" fill="none" stroke="#1a1a1a" stroke-width="1.4"/>
<rect x="1226.2" y="618.3" width="14.2" height="3.2" fill="#d95319"/>
<path d="M1257.9 621.3 V624.8 M1254.9 624.8 h6" fill="none" stroke="#1a1a1a" stroke-width="1.4"/>
<circle cx="1257.9" cy="616.4" r="3.55" fill="none" stroke="#edb120" stroke-width="1.45"/>
<rect x="1250.8" y="618.3" width="14.2" height="3.2" fill="#edb120"/>
<path d="M1282.5 713.9 V719.4 M1279.5 719.4 h6" fill="none" stroke="#1a1a1a" stroke-width="1.4"/>
<circle cx="1282.5" cy="700.2" r="3.55" fill="none" stroke="#0072bd" stroke-width="1.45"/>
<circle cx="1282.5" cy="701.25" r="3.55" fill="none" stroke="#0072bd" stroke-width="1.45"/>
<circle cx="1282.5" cy="702.3" r="3.55" fill="none" stroke="#0072bd" stroke-width="1.45"/>
<circle cx="1282.5" cy="703.35" r="3.55" fill="none" stroke="#0072bd" stroke-width="1.45"/>
<circle cx="1282.5" cy="704.4" r="3.55" fill="none" stroke="#0072bd" stroke-width="1.45"/>
<rect x="1276" y="708.5" width="13" height="5.4" fill="#0072bd" fill-opacity="0.22" stroke="#0072bd" stroke-width="1.45"/>
<path d="M1276 710.93h13" stroke="#0072bd" stroke-width="1.2"/>
<path d="M1307.3 712.7 V720.5 M1304.3 720.5 h6" fill="none" stroke="#1a1a1a" stroke-width="1.4"/>
<circle cx="1307.3" cy="696.5" r="3.55" fill="none" stroke="#d95319" stroke-width="1.45"/>
<circle cx="1307.3" cy="697.52" r="3.55" fill="none" stroke="#d95319" stroke-width="1.45"/>
<circle cx="1307.3" cy="698.53" r="3.55" fill="none" stroke="#d95319" stroke-width="1.45"/>
<circle cx="1307.3" cy="699.55" r="3.55" fill="none" stroke="#d95319" stroke-width="1.45"/>
<circle cx="1307.3" cy="700.57" r="3.55" fill="none" stroke="#d95319" stroke-width="1.45"/>
<circle cx="1307.3" cy="701.58" r="3.55" fill="none" stroke="#d95319" stroke-width="1.45"/>
<circle cx="1307.3" cy="702.6" r="3.55" fill="none" stroke="#d95319" stroke-width="1.45"/>
<rect x="1300.8" y="706.6" width="13" height="6.1" fill="#d95319" fill-opacity="0.22" stroke="#d95319" stroke-width="1.45"/>
<path d="M1300.8 709.35h13" stroke="#d95319" stroke-width="1.2"/>
<path d="M1331.9 712.4 V718.3 M1328.9 718.3 h6" fill="none" stroke="#1a1a1a" stroke-width="1.4"/>
<circle cx="1331.9" cy="694.2" r="3.55" fill="none" stroke="#edb120" stroke-width="1.45"/>
<circle cx="1331.9" cy="695.34" r="3.55" fill="none" stroke="#edb120" stroke-width="1.45"/>
<circle cx="1331.9" cy="696.49" r="3.55" fill="none" stroke="#edb120" stroke-width="1.45"/>
<circle cx="1331.9" cy="697.63" r="3.55" fill="none" stroke="#edb120" stroke-width="1.45"/>
<circle cx="1331.9" cy="698.77" r="3.55" fill="none" stroke="#edb120" stroke-width="1.45"/>
<circle cx="1331.9" cy="699.91" r="3.55" fill="none" stroke="#edb120" stroke-width="1.45"/>
<circle cx="1331.9" cy="701.06" r="3.55" fill="none" stroke="#edb120" stroke-width="1.45"/>
<circle cx="1331.9" cy="702.2" r="3.55" fill="none" stroke="#edb120" stroke-width="1.45"/>
<rect x="1325.4" y="706.1" width="13" height="6.3" fill="#edb120" fill-opacity="0.22" stroke="#edb120" stroke-width="1.45"/>
<path d="M1325.4 708.93h13" stroke="#edb120" stroke-width="1.2"/>
<path d="M1356.5 722.8 V726.5 M1353.5 726.5 h6" fill="none" stroke="#1a1a1a" stroke-width="1.4"/>
<circle cx="1356.5" cy="717.1" r="3.55" fill="none" stroke="#0072bd" stroke-width="1.45"/>
<rect x="1349.4" y="719.8" width="14.2" height="3.2" fill="#0072bd"/>
<path d="M1381.1 721.5 V724.1 M1378.1 724.1 h6" fill="none" stroke="#1a1a1a" stroke-width="1.4"/>
<circle cx="1381.1" cy="716.4" r="3.55" fill="none" stroke="#d95319" stroke-width="1.45"/>
<rect x="1374" y="717.9" width="14.2" height="3.8" fill="#d95319"/>
<path d="M1405.8 721.8 V726.3 M1402.8 726.3 h6" fill="none" stroke="#1a1a1a" stroke-width="1.4"/>
<circle cx="1405.8" cy="716.6" r="3.55" fill="none" stroke="#edb120" stroke-width="1.45"/>
<rect x="1398.7" y="718.8" width="14.2" height="3.2" fill="#edb120"/>
<text x="1158.8" y="806.4" font-size="23" fill="#1c1c1c" text-anchor="middle">7</text>
<text x="1232.8" y="806.4" font-size="23" fill="#1c1c1c" text-anchor="middle">8</text>
<text x="1306.7" y="806.4" font-size="23" fill="#1c1c1c" text-anchor="middle">9</text>
<text x="1380.7" y="806.4" font-size="23" fill="#1c1c1c" text-anchor="middle" textLength="21.5" lengthAdjust="spacingAndGlyphs">10</text>
<text x="1078" y="599.3" font-size="23" fill="#1c1c1c" text-anchor="end">0</text>
<text x="1077.4" y="783.5" font-size="23" fill="#1c1c1c" text-anchor="end" textLength="30.5" lengthAdjust="spacingAndGlyphs">-20</text>
<text x="1270.1" y="837.7" font-size="26" fill="#1c1c1c" text-anchor="middle" textLength="22.3" lengthAdjust="spacingAndGlyphs">M</text>
<text x="1386.79" y="622.4" font-size="25.2" fill="#1c1c1c">N<tspan dy="1.89" textLength="20.72" lengthAdjust="spacingAndGlyphs">=</tspan><tspan dy="-1.89">8</tspan></text>
</g>
<g id="legend">
<rect x="1095.4" y="705.8" width="137.8" height="58.3" fill="#fff" stroke="#5a5a5a" stroke-width="1"/>
<rect x="1099" y="709.5" width="37.4" height="14" fill="#0072bd" fill-opacity="0.2" stroke="#0072bd" stroke-width="1.2"/>
<text x="1139.3" y="721.1" font-size="15.5" fill="#1c1c1c" textLength="31" lengthAdjust="spacingAndGlyphs">DFT</text>
<rect x="1099" y="727.85" width="37.4" height="14" fill="#d95319" fill-opacity="0.2" stroke="#d95319" stroke-width="1.2"/>
<text x="1139.3" y="739.45" font-size="15.5" fill="#1c1c1c" textLength="45" lengthAdjust="spacingAndGlyphs">DFrFT</text>
<rect x="1099" y="746.2" width="37.4" height="14" fill="#edb120" fill-opacity="0.2" stroke="#edb120" stroke-width="1.2"/>
<text x="1139.3" y="757.8" font-size="15.5" fill="#1c1c1c" textLength="91" lengthAdjust="spacingAndGlyphs">Haar-Random</text>
</g>
<g id="hist">
<rect x="1598.7" y="104.93" width="24.57" height="254.67" fill="#66abdc" stroke="#1a1a1a" stroke-width="0.9"/>
<rect x="1623.27" y="248.45" width="24.57" height="111.15" fill="#66abdc" stroke="#1a1a1a" stroke-width="0.9"/>
<rect x="1647.84" y="315.49" width="24.57" height="44.11" fill="#66abdc" stroke="#1a1a1a" stroke-width="0.9"/>
<rect x="1672.41" y="342.72" width="24.57" height="16.88" fill="#66abdc" stroke="#1a1a1a" stroke-width="0.9"/>
<rect x="1696.98" y="353.69" width="24.57" height="5.91" fill="#66abdc" stroke="#1a1a1a" stroke-width="0.9"/>
<rect x="1721.55" y="357.63" width="24.57" height="1.97" fill="#66abdc" stroke="#1a1a1a" stroke-width="0.9"/>
<rect x="1746.12" y="358.9" width="24.57" height="0.7" fill="#66abdc" stroke="#1a1a1a" stroke-width="0.9"/>
<path d="M1580.4 77.9 H1985.6 V359.6 H1580.4 ZM1598.7 359.6 v-3.8M1598.7 77.9 v3.8M1675.48 359.6 v-3.8M1675.48 77.9 v3.8M1752.26 359.6 v-3.8M1752.26 77.9 v3.8M1829.04 359.6 v-3.8M1829.04 77.9 v3.8M1905.82 359.6 v-3.8M1905.82 77.9 v3.8M1982.6 359.6 v-3.8M1982.6 77.9 v3.8M1580.4 289.25 h3.8M1985.6 289.25 h-3.8M1580.4 218.9 h3.8M1985.6 218.9 h-3.8M1580.4 148.55 h3.8M1985.6 148.55 h-3.8" fill="none" stroke="#555" stroke-width="1.15"/>
<text x="1598.7" y="391.6" font-size="23" fill="#1c1c1c" text-anchor="middle">0</text>
<text x="1675.48" y="391.6" font-size="23" fill="#1c1c1c" text-anchor="middle" textLength="22.6" lengthAdjust="spacingAndGlyphs">50</text>
<text x="1752.26" y="391.6" font-size="23" fill="#1c1c1c" text-anchor="middle" textLength="33.9" lengthAdjust="spacingAndGlyphs">100</text>
<text x="1829.04" y="391.6" font-size="23" fill="#1c1c1c" text-anchor="middle" textLength="33.9" lengthAdjust="spacingAndGlyphs">150</text>
<text x="1905.82" y="391.6" font-size="23" fill="#1c1c1c" text-anchor="middle" textLength="33.9" lengthAdjust="spacingAndGlyphs">200</text>
<text x="1982.6" y="391.6" font-size="23" fill="#1c1c1c" text-anchor="middle" textLength="33.9" lengthAdjust="spacingAndGlyphs">250</text>
<text x="1573.6" y="367" font-size="23" fill="#1c1c1c" text-anchor="end">0</text>
<text x="1573.6" y="296.65" font-size="23" fill="#1c1c1c" text-anchor="end">1</text>
<text x="1573.6" y="226.3" font-size="23" fill="#1c1c1c" text-anchor="end">2</text>
<text x="1573.6" y="155.95" font-size="23" fill="#1c1c1c" text-anchor="end">3</text>
<text x="1573.6" y="85.6" font-size="23" fill="#1c1c1c" text-anchor="end">4</text>
<text y="69.9" fill="#1c1c1c"><tspan x="1580.6" dy="2.4" font-size="28">×</tspan><tspan x="1599" dy="-2.4" font-size="23.5">10</tspan><tspan x="1621" dy="-11.2" font-size="18.5">4</tspan></text>
<text transform="translate(1548.5 218.5) rotate(-90)" font-size="26" text-anchor="middle" fill="#1c1c1c" textLength="112" lengthAdjust="spacingAndGlyphs">Frequency</text>
</g>
<g id="conv">
<g fill="none" stroke="#2b83c6" stroke-width="2.2" stroke-linejoin="round">
<path d="M1587.87 442.49 1595.95 448.92 1604.02 454.49 1612.1 462.46 1620.17 467.55 1628.24 477.49 1636.32 480.06 1644.39 483.52 1652.47 483.93 1660.54 493.7 1668.61 495.44 1676.69 501.77 1684.76 502.18 1692.84 502.59 1700.91 502.99 1708.98 519.21 1717.06 547.42 1725.13 578.74 1733.21 637.95 1741.28 706.2 1749.35 719.89" stroke-opacity="0.5"/>
<path d="M1587.87 440.5 1595.95 444.21 1604.02 450.79 1612.1 453.85 1620.17 459.14 1628.24 460.28 1636.32 463.91 1644.39 469.05 1652.47 472.2 1660.54 479.98 1668.61 484.1 1676.69 484.51 1684.76 487.93 1692.84 489.56 1700.91 490.33 1708.98 498.11 1717.06 511.84 1725.13 536.02 1733.21 575.99 1741.28 644.18 1749.35 693.78 1757.43 707.83" stroke-opacity="1"/>
<path d="M1587.87 442.7 1595.95 447.38 1604.02 451.61 1612.1 455.97 1620.17 459.39 1628.24 463.63 1636.32 464.04 1644.39 468.01 1652.47 472.52 1660.54 477.98 1668.61 478.39 1676.69 478.8 1684.76 479.35 1692.84 500.3 1700.91 521.67 1708.98 571.03 1717.06 638.35 1725.13 708.72 1733.21 723.55" stroke-opacity="1"/>
<path d="M1587.87 438.51 1595.95 445.51 1604.02 449.59 1612.1 460.94 1620.17 462.69 1628.24 467.37 1636.32 476.28 1644.39 480.35 1652.47 485.31 1660.54 501.05 1668.61 534.69 1676.69 574.74 1684.76 640.39 1692.84 708.39 1700.91 729.16" stroke-opacity="0.4"/>
<path d="M1587.87 440.54 1595.95 445.01 1604.02 448.91 1612.1 451.89 1620.17 456.41 1628.24 461.72 1636.32 463.88 1644.39 468.21 1652.47 472.59 1660.54 476.51 1668.61 480.79 1676.69 481.45 1684.76 490.04 1692.84 491.99 1700.91 493 1708.98 512.75 1717.06 542.22 1725.13 587.62 1733.21 657.24 1741.28 716.22 1749.35 732.25" stroke-opacity="0.65"/>
<path d="M1587.87 438.31 1595.95 445.48 1604.02 453.69 1612.1 460.16 1620.17 468 1628.24 472.53 1636.32 479.8 1644.39 483.47 1652.47 484.02 1660.54 491.66 1668.61 495.96 1676.69 496.36 1684.76 500.84 1692.84 504.03 1700.91 504.44 1708.98 517.03 1717.06 539.37 1725.13 578.77 1733.21 634.27 1741.28 701.32 1749.35 714.82" stroke-opacity="0.8"/>
<path d="M1587.87 441.69 1595.95 444.71 1604.02 448.96 1612.1 453.45 1620.17 453.86 1628.24 459.45 1636.32 459.86 1644.39 460.27 1652.47 466.42 1660.54 474.07 1668.61 474.48 1676.69 477.34 1684.76 482.23 1692.84 488.76 1700.91 491.15 1708.98 491.55 1717.06 498.97 1725.13 514.45 1733.21 541.11 1741.28 575.58 1749.35 641.66 1757.43 695.66 1765.5 715.95" stroke-opacity="0.8"/>
<path d="M1587.87 439.23 1595.95 444.37 1604.02 444.78 1612.1 446.65 1620.17 454.44 1628.24 457.49 1636.32 465.93 1644.39 466.34 1652.47 469.95 1660.54 472.08 1668.61 474.43 1676.69 484.63 1684.76 485.03 1692.84 504.24 1700.91 523.46 1708.98 558.98 1717.06 618.58 1725.13 682.74 1733.21 701.35" stroke-opacity="0.65"/>
<path d="M1587.87 438.45 1595.95 449.46 1604.02 455.41 1612.1 464.71 1620.17 475.36 1628.24 485.31 1636.32 489.29 1644.39 495.36 1652.47 498.48 1660.54 513.88 1668.61 537.73 1676.69 582.88 1684.76 625.68 1692.84 694.43 1700.91 706.77" stroke-opacity="0.5"/>
<path d="M1587.87 443.15 1595.95 450.57 1604.02 451.86 1612.1 459.02 1620.17 465.37 1628.24 472.08 1636.32 474.33 1644.39 480.06 1652.47 480.47 1660.54 480.88 1668.61 497.66 1676.69 525.97 1684.76 575.82 1692.84 631.07 1700.91 693.01 1708.98 715.88" stroke-opacity="0.5"/>
<path d="M1587.87 438.88 1595.95 443.65 1604.02 448.24 1612.1 451.35 1620.17 459.8 1628.24 464.56 1636.32 467.81 1644.39 473.39 1652.47 483.5 1660.54 486.57 1668.61 489.24 1676.69 495.08 1684.76 502.64 1692.84 506.95 1700.91 521.37 1708.98 544.11 1717.06 590.39 1725.13 639.23 1733.21 698.64 1741.28 713.66" stroke-opacity="0.8"/>
<path d="M1587.87 440.31 1595.95 446.04 1604.02 449.95 1612.1 455.91 1620.17 460 1628.24 464.3 1636.32 471.5 1644.39 471.91 1652.47 472.95 1660.54 473.36 1668.61 476.46 1676.69 482.97 1684.76 483.38 1692.84 483.79 1700.91 497.61 1708.98 524.23 1717.06 565.97 1725.13 628.39 1733.21 688.39 1741.28 702.18" stroke-opacity="0.65"/>
<path d="M1587.87 440.11 1595.95 445.85 1604.02 451.41 1612.1 454.49 1620.17 455.22 1628.24 461.45 1636.32 467.31 1644.39 467.72 1652.47 469.61 1660.54 475.14 1668.61 483.09 1676.69 483.5 1684.76 483.91 1692.84 484.81 1700.91 485.22 1708.98 492.66 1717.06 509.56 1725.13 530.61 1733.21 577.54 1741.28 638.86 1749.35 708.17 1757.43 729.09" stroke-opacity="0.8"/>
<path d="M1587.87 443.24 1595.95 449.31 1604.02 454.83 1612.1 458.83 1620.17 462.63 1628.24 470.07 1636.32 475.88 1644.39 476.29 1652.47 488.79 1660.54 489.2 1668.61 490.91 1676.69 492.99 1684.76 493.92 1692.84 506.74 1700.91 539.28 1708.98 581.75 1717.06 638.93 1725.13 712.19 1733.21 728.56" stroke-opacity="0.8"/>
<path d="M1587.87 439.54 1595.95 443.88 1604.02 449.35 1612.1 452.17 1620.17 455.61 1628.24 461.38 1636.32 461.79 1644.39 465.81 1652.47 468.01 1660.54 469.99 1668.61 470.4 1676.69 477.83 1684.76 481.37 1692.84 481.77 1700.91 484.05 1708.98 500.51 1717.06 534.25 1725.13 581.01 1733.21 646.02 1741.28 706.1 1749.35 720.91" stroke-opacity="1"/>
<path d="M1587.87 441.71 1595.95 446.45 1604.02 454.74 1612.1 458.26 1620.17 461.93 1628.24 471.15 1636.32 474.71 1644.39 478.2 1652.47 498.56 1660.54 537.02 1668.61 588.24 1676.69 654.54 1684.76 709.93 1692.84 732.32" stroke-opacity="0.35"/>
<path d="M1587.87 441 1595.95 446.26 1604.02 446.67 1612.1 452.13 1620.17 455.66 1628.24 458.4 1636.32 465.37 1644.39 467.6 1652.47 473.37 1660.54 476 1668.61 476.41 1676.69 483.26 1684.76 501.8 1692.84 531.73 1700.91 572 1708.98 639.62 1717.06 706.55 1725.13 727.8" stroke-opacity="0.4"/>
<path d="M1587.87 442.66 1595.95 451.15 1604.02 462.36 1612.1 465.56 1620.17 475.77 1628.24 478.1 1636.32 483.33 1644.39 488.49 1652.47 490.89 1660.54 491.89 1668.61 497.94 1676.69 513.59 1684.76 547.56 1692.84 588.14 1700.91 641.91 1708.98 715.3 1717.06 730.85" stroke-opacity="0.8"/>
<path d="M1587.87 439.5 1595.95 447.7 1604.02 452.93 1612.1 459.66 1620.17 471.36 1628.24 471.76 1636.32 481.41 1644.39 483.92 1652.47 492.13 1660.54 497.06 1668.61 512.99 1676.69 535.06 1684.76 584.03 1692.84 640.11 1700.91 698.7 1708.98 715.72" stroke-opacity="0.8"/>
<path d="M1587.87 440.79 1595.95 441.2 1604.02 445.17 1612.1 447.75 1620.17 453.6 1628.24 456.78 1636.32 459.6 1644.39 462.23 1652.47 469.33 1660.54 469.74 1668.61 477.22 1676.69 477.63 1684.76 493.38 1692.84 493.79 1700.91 512.63 1708.98 538.32 1717.06 580.95 1725.13 641.13 1733.21 701.61 1741.28 718.27" stroke-opacity="0.3"/>
<path d="M1587.87 442.63 1595.95 450.63 1604.02 454.52 1612.1 462.58 1620.17 466.9 1628.24 474.06 1636.32 476.55 1644.39 478.64 1652.47 484.9 1660.54 488.57 1668.61 489.67 1676.69 495.21 1684.76 497.13 1692.84 510.57 1700.91 532.56 1708.98 582.44 1717.06 636.56 1725.13 687.94 1733.21 701.39" stroke-opacity="1"/>
<path d="M1587.87 442.77 1595.95 446.29 1604.02 451.16 1612.1 456.3 1620.17 458.99 1628.24 463.7 1636.32 464.11 1644.39 474.94 1652.47 478.07 1660.54 479.53 1668.61 486.8 1676.69 488.6 1684.76 489.01 1692.84 495.42 1700.91 500.33 1708.98 502.9 1717.06 507.15 1725.13 513.45 1733.21 533.96 1741.28 555.03 1749.35 588 1757.43 652.87 1765.5 706.21 1773.58 719.64" stroke-opacity="0.5"/>
<path d="M1587.87 438.15 1595.95 443.54 1604.02 449.18 1612.1 458.56 1620.17 462.19 1628.24 467.65 1636.32 473.46 1644.39 476.97 1652.47 486.33 1660.54 492.81 1668.61 495.37 1676.69 498.24 1684.76 518.53 1692.84 543.82 1700.91 582.64 1708.98 653.75 1717.06 702.32 1725.13 720.85" stroke-opacity="0.8"/>
<path d="M1587.87 442.6 1595.95 445.9 1604.02 453.27 1612.1 454.39 1620.17 456.58 1628.24 461.12 1636.32 463.9 1644.39 471.82 1652.47 472.93 1660.54 476.79 1668.61 479.91 1676.69 488.22 1684.76 495.78 1692.84 501.38 1700.91 520.46 1708.98 547.39 1717.06 589.16 1725.13 648.91 1733.21 710.5 1741.28 730.91" stroke-opacity="0.5"/>
<path d="M1587.87 440.06 1595.95 447.62 1604.02 451.22 1612.1 459.51 1620.17 464.44 1628.24 470.11 1636.32 474.3 1644.39 480.93 1652.47 491.72 1660.54 492.13 1668.61 499.1 1676.69 505.36 1684.76 517.35 1692.84 543.55 1700.91 575.86 1708.98 626.31 1717.06 689.31 1725.13 705.65" stroke-opacity="0.65"/>
<path d="M1587.87 441.84 1595.95 444.32 1604.02 446.55 1612.1 453.15 1620.17 453.97 1628.24 458.17 1636.32 464.68 1644.39 466.1 1652.47 470.59 1660.54 473.4 1668.61 480.5 1676.69 483.12 1684.76 494.19 1692.84 497.77 1700.91 499.64 1708.98 512.95 1717.06 539.01 1725.13 581.38 1733.21 626.21 1741.28 693.05 1749.35 712.75" stroke-opacity="0.8"/>
<path d="M1587.87 438.74 1595.95 441.46 1604.02 447.87 1612.1 450.87 1620.17 455.39 1628.24 460.24 1636.32 468.13 1644.39 470.06 1652.47 482.39 1660.54 489.68 1668.61 498.98 1676.69 506.4 1684.76 514.03 1692.84 533.64 1700.91 560.93 1708.98 606.82 1717.06 659.45 1725.13 712.31 1733.21 732.26" stroke-opacity="0.8"/>
<path d="M1587.87 443.23 1595.95 445.95 1604.02 453.23 1612.1 456.96 1620.17 461.98 1628.24 463.57 1636.32 467.48 1644.39 472.6 1652.47 476.92 1660.54 480.02 1668.61 484.95 1676.69 489.95 1684.76 490.8 1692.84 496.43 1700.91 499.09 1708.98 499.83 1717.06 501.78 1725.13 510.97 1733.21 511.38 1741.28 517.63 1749.35 532.7 1757.43 554.42 1765.5 593.92 1773.58 646.5 1781.65 699.99 1789.72 714.39" stroke-opacity="0.8"/>
<path d="M1587.87 440.82 1595.95 455.68 1604.02 466.57 1612.1 473.53 1620.17 487.08 1628.24 493.06 1636.32 501 1644.39 504.73 1652.47 523.01 1660.54 552.28 1668.61 598.08 1676.69 662.59 1684.76 710.02 1692.84 723.29" stroke-opacity="0.35"/>
<path d="M1587.87 441.49 1595.95 447.36 1604.02 450.9 1612.1 452.54 1620.17 457.24 1628.24 461.65 1636.32 466.14 1644.39 473.86 1652.47 475.75 1660.54 479.74 1668.61 484.65 1676.69 485.05 1684.76 491.65 1692.84 495.26 1700.91 499.92 1708.98 506.78 1717.06 507.19 1725.13 507.6 1733.21 525.18 1741.28 547.85 1749.35 583.68 1757.43 647.33 1765.5 689.53 1773.58 705.29" stroke-opacity="0.5"/>
<path d="M1587.87 442.51 1595.95 445.98 1604.02 446.87 1612.1 449.62 1620.17 453.69 1628.24 456.52 1636.32 456.93 1644.39 459.9 1652.47 460.8 1660.54 462.29 1668.61 468.16 1676.69 470.42 1684.76 472.5 1692.84 472.91 1700.91 473.32 1708.98 473.73 1717.06 474.14 1725.13 479.89 1733.21 480.3 1741.28 481.71 1749.35 482.4 1757.43 485.03 1765.5 490.98 1773.58 491.39 1781.65 514.64 1789.72 538.66 1797.8 577.03 1805.87 639.18 1813.95 710.47 1822.02 725.94" stroke-opacity="0.3"/>
<path d="M1587.87 438.08 1595.95 442.07 1604.02 450.11 1612.1 453.4 1620.17 458.33 1628.24 463.66 1636.32 468.81 1644.39 469.86 1652.47 470.27 1660.54 476.01 1668.61 492.25 1676.69 517 1684.76 567.28 1692.84 628.53 1700.91 709.39 1708.98 729.89" stroke-opacity="0.3"/>
<path d="M1587.87 437.88 1595.95 443.3 1604.02 446.74 1612.1 451.67 1620.17 452.28 1628.24 457.45 1636.32 463.38 1644.39 469.9 1652.47 472.28 1660.54 482.6 1668.61 484.05 1676.69 492.45 1684.76 504.06 1692.84 508.78 1700.91 525.9 1708.98 546.02 1717.06 588.16 1725.13 637 1733.21 696.96 1741.28 713.71" stroke-opacity="0.3"/>
<path d="M1587.87 440.8 1595.95 449.05 1604.02 455.34 1612.1 461.73 1620.17 466.7 1628.24 478.67 1636.32 479.08 1644.39 479.49 1652.47 479.9 1660.54 489.25 1668.61 489.66 1676.69 507.07 1684.76 528.3 1692.84 578.02 1700.91 633.3 1708.98 708.39 1717.06 727.01" stroke-opacity="0.65"/>
<path d="M1587.87 439.04 1595.95 442.02 1604.02 444.46 1612.1 448.54 1620.17 452.8 1628.24 453.28 1636.32 453.69 1644.39 455.94 1652.47 456.92 1660.54 463.98 1668.61 464.39 1676.69 469.27 1684.76 469.67 1692.84 475.93 1700.91 476.34 1708.98 476.75 1717.06 477.16 1725.13 493.62 1733.21 523.85 1741.28 567.34 1749.35 624.89 1757.43 691.15 1765.5 704.66" stroke-opacity="0.5"/>
<path d="M1587.87 438.54 1595.95 444.24 1604.02 447.65 1612.1 451.43 1620.17 459.76 1628.24 460.17 1636.32 468.79 1644.39 469.2 1652.47 471.14 1660.54 471.62 1668.61 477.64 1676.69 482.54 1684.76 486.08 1692.84 486.49 1700.91 503.43 1708.98 533.18 1717.06 578.65 1725.13 630.28 1733.21 704.2 1741.28 720.61" stroke-opacity="0.4"/>
<path d="M1587.87 438.35 1595.95 449.3 1604.02 455.53 1612.1 467.47 1620.17 468.22 1628.24 475.5 1636.32 483.11 1644.39 485.05 1652.47 506.17 1660.54 533.2 1668.61 581.33 1676.69 635.72 1684.76 696.57 1692.84 710.36" stroke-opacity="0.35"/>
<path d="M1587.87 440.76 1595.95 451.53 1604.02 458.13 1612.1 470.11 1620.17 480.95 1628.24 493.6 1636.32 500.68 1644.39 507.16 1652.47 521.05 1660.54 535.06 1668.61 557.04 1676.69 589.42 1684.76 654.28 1692.84 719.01 1700.91 732.41" stroke-opacity="1"/>
<path d="M1587.87 441.23 1595.95 444.13 1604.02 447.46 1612.1 451.58 1620.17 451.98 1628.24 454.8 1636.32 456.04 1644.39 458.29 1652.47 461.26 1660.54 463.02 1668.61 463.43 1676.69 472.46 1684.76 472.87 1692.84 475.87 1700.91 476.28 1708.98 500.13 1717.06 539.55 1725.13 585.76 1733.21 640.45 1741.28 697.66 1749.35 713.78" stroke-opacity="0.5"/>
<path d="M1587.87 438.44 1595.95 448.98 1604.02 459.82 1612.1 465.01 1620.17 473.5 1628.24 479.93 1636.32 486.36 1644.39 489.97 1652.47 495.07 1660.54 498.12 1668.61 505.52 1676.69 506.56 1684.76 515.31 1692.84 521.15 1700.91 521.56 1708.98 540.16 1717.06 560.6 1725.13 595.11 1733.21 662.02 1741.28 711.43 1749.35 725.9" stroke-opacity="1"/>
<path d="M1587.87 442.5 1595.95 451.72 1604.02 460.92 1612.1 467.27 1620.17 476.97 1628.24 483.01 1636.32 487.67 1644.39 494.78 1652.47 500.49 1660.54 500.9 1668.61 505.7 1676.69 512.96 1684.76 531.03 1692.84 559.73 1700.91 602.21 1708.98 648.3 1717.06 693.66 1725.13 706.47" stroke-opacity="0.5"/>
<path d="M1587.87 437.9 1595.95 445.09 1604.02 450.53 1612.1 459.04 1620.17 461.66 1628.24 468.84 1636.32 477.01 1644.39 478.75 1652.47 482.39 1660.54 490.86 1668.61 495.06 1676.69 499.9 1684.76 502.27 1692.84 504.84 1700.91 507.71 1708.98 514.42 1717.06 528.29 1725.13 557.62 1733.21 589.9 1741.28 628.71 1749.35 692.98 1757.43 706.02" stroke-opacity="0.3"/>
<path d="M1587.87 441.43 1595.95 446.35 1604.02 451.67 1612.1 453.15 1620.17 457.23 1628.24 462.9 1636.32 465.81 1644.39 474.47 1652.47 474.88 1660.54 475.29 1668.61 475.69 1676.69 481.19 1684.76 481.6 1692.84 482.01 1700.91 487.68 1708.98 508.35 1717.06 534.58 1725.13 575.33 1733.21 633.57 1741.28 701.49 1749.35 721.24" stroke-opacity="0.8"/>
<path d="M1587.87 441.36 1595.95 443.11 1604.02 448.61 1612.1 451.11 1620.17 452.54 1628.24 456.1 1636.32 460.91 1644.39 461.32 1652.47 467.38 1660.54 473.05 1668.61 474.49 1676.69 474.9 1684.76 479.61 1692.84 482.63 1700.91 488.41 1708.98 510.69 1717.06 540.93 1725.13 574.48 1733.21 621.11 1741.28 690.04 1749.35 712.35" stroke-opacity="0.5"/>
<path d="M1587.87 441.42 1595.95 444.54 1604.02 446.83 1612.1 449.31 1620.17 453.26 1628.24 458.09 1636.32 458.5 1644.39 459.02 1652.47 466.01 1660.54 466.84 1668.61 471.8 1676.69 474.92 1684.76 479.22 1692.84 486.92 1700.91 487.33 1708.98 489.71 1717.06 497.51 1725.13 513.5 1733.21 546.37 1741.28 579.5 1749.35 652.15 1757.43 700.84 1765.5 721.9" stroke-opacity="0.5"/>
<path d="M1587.87 442.02 1595.95 446.53 1604.02 453.52 1612.1 457.7 1620.17 463.75 1628.24 465.56 1636.32 467.53 1644.39 472.23 1652.47 472.64 1660.54 485.22 1668.61 485.63 1676.69 505.39 1684.76 537.28 1692.84 572.28 1700.91 645.54 1708.98 708.25 1717.06 730.01" stroke-opacity="0.5"/>
<path d="M1587.87 438.86 1595.95 441.62 1604.02 442.03 1612.1 447.5 1620.17 447.91 1628.24 449.76 1636.32 450.17 1644.39 456.15 1652.47 456.88 1660.54 458.53 1668.61 461.38 1676.69 461.78 1684.76 467.58 1692.84 467.99 1700.91 477.37 1708.98 482.2 1717.06 482.61 1725.13 498.61 1733.21 531.71 1741.28 568.67 1749.35 624.2 1757.43 708.73 1765.5 730.09" stroke-opacity="0.5"/>
<path d="M1587.87 441.26 1595.95 444.82 1604.02 446.99 1612.1 448.45 1620.17 448.85 1628.24 453.27 1636.32 453.72 1644.39 457.02 1652.47 462.93 1660.54 463.34 1668.61 463.74 1676.69 470.78 1684.76 474.56 1692.84 476.28 1700.91 480.21 1708.98 499.94 1717.06 538.18 1725.13 584.02 1733.21 643.94 1741.28 701.94 1749.35 724.26" stroke-opacity="0.5"/>
<path d="M1587.87 438.11 1595.95 442.3 1604.02 447.83 1612.1 449.53 1620.17 454.21 1628.24 457.8 1636.32 460 1644.39 465.46 1652.47 472.8 1660.54 473.21 1668.61 475.21 1676.69 478.91 1684.76 483.74 1692.84 484.15 1700.91 486 1708.98 499.59 1717.06 533.82 1725.13 565.41 1733.21 630.9 1741.28 706.45 1749.35 726.83" stroke-opacity="0.65"/>
<path d="M1587.87 441.41 1595.95 454.92 1604.02 464.01 1612.1 474.64 1620.17 476.5 1628.24 488.28 1636.32 495.23 1644.39 501.32 1652.47 518.68 1660.54 547.34 1668.61 578.52 1676.69 642.13 1684.76 695.29 1692.84 708.72" stroke-opacity="0.35"/>
<path d="M1587.87 441.27 1595.95 443.84 1604.02 447.45 1612.1 451.71 1620.17 452.88 1628.24 456.33 1636.32 464.66 1644.39 465.07 1652.47 473.09 1660.54 473.5 1668.61 480.35 1676.69 488.47 1684.76 488.88 1692.84 497.72 1700.91 503.13 1708.98 520.99 1717.06 544.6 1725.13 589.91 1733.21 648.97 1741.28 692.99 1749.35 706.17" stroke-opacity="0.8"/>
<path d="M1587.87 440.98 1595.95 448.09 1604.02 453.56 1612.1 461.03 1620.17 465.06 1628.24 468.36 1636.32 472.39 1644.39 475.21 1652.47 479.3 1660.54 483.49 1668.61 483.9 1676.69 487.13 1684.76 491.97 1692.84 492.38 1700.91 513.71 1708.98 541.54 1717.06 587.51 1725.13 641.48 1733.21 707.86 1741.28 724.02" stroke-opacity="0.3"/>
<path d="M1587.87 438.62 1595.95 443.54 1604.02 444.12 1612.1 447.88 1620.17 454.44 1628.24 457.87 1636.32 463.23 1644.39 463.64 1652.47 471.86 1660.54 472.27 1668.61 479.18 1676.69 483.77 1684.76 484.18 1692.84 489.25 1700.91 511.19 1708.98 539.74 1717.06 577.87 1725.13 634.32 1733.21 689.76 1741.28 703.36" stroke-opacity="0.8"/>
<path d="M1587.87 442.24 1595.95 442.65 1604.02 446.12 1612.1 450.36 1620.17 452.34 1628.24 456.87 1636.32 457.28 1644.39 461.32 1652.47 465.43 1660.54 466.52 1668.61 466.93 1676.69 474.3 1684.76 479.42 1692.84 482.85 1700.91 483.26 1708.98 488.94 1717.06 507.17 1725.13 534.75 1733.21 580.68 1741.28 645.5 1749.35 705.6 1757.43 724.35" stroke-opacity="0.5"/>
<path d="M1587.87 440.94 1595.95 442.17 1604.02 447.04 1612.1 449.17 1620.17 453.38 1628.24 458.69 1636.32 461.44 1644.39 463.66 1652.47 467.17 1660.54 473.13 1668.61 475.88 1676.69 476.29 1684.76 484.68 1692.84 489.07 1700.91 491.72 1708.98 495.18 1717.06 513.88 1725.13 546.31 1733.21 585.36 1741.28 640.31 1749.35 702.42 1757.43 722.82" stroke-opacity="0.65"/>
<path d="M1587.87 443.46 1595.95 451.09 1604.02 454.17 1612.1 463.76 1620.17 471.31 1628.24 472.54 1636.32 479.72 1644.39 486.36 1652.47 493.25 1660.54 493.66 1668.61 497.75 1676.69 513.02 1684.76 546.42 1692.84 586.98 1700.91 650.96 1708.98 701.67 1717.06 723.65" stroke-opacity="0.5"/>
<path d="M1587.87 442.89 1595.95 446.49 1604.02 447.13 1612.1 452.87 1620.17 457.47 1628.24 459.07 1636.32 461.05 1644.39 466.01 1652.47 467.02 1660.54 471.49 1668.61 474.67 1676.69 477.78 1684.76 479.97 1692.84 480.38 1700.91 486.97 1708.98 488.25 1717.06 505.57 1725.13 535 1733.21 575.8 1741.28 633.67 1749.35 701.86 1757.43 719.13" stroke-opacity="0.4"/>
<path d="M1587.87 440.14 1595.95 449.69 1604.02 458.82 1612.1 469.06 1620.17 480.04 1628.24 490.39 1636.32 500.07 1644.39 514.53 1652.47 527.25 1660.54 549.47 1668.61 594.84 1676.69 638.56 1684.76 693.17 1692.84 709.5" stroke-opacity="0.35"/>
<path d="M1587.87 438.01 1595.95 442.44 1604.02 442.85 1612.1 445.77 1620.17 446.74 1628.24 452.43 1636.32 457.36 1644.39 457.76 1652.47 458.17 1660.54 465.19 1668.61 465.6 1676.69 468.93 1684.76 469.99 1692.84 474.54 1700.91 480.01 1708.98 480.41 1717.06 484.13 1725.13 485.71 1733.21 500.23 1741.28 523.29 1749.35 561.76 1757.43 623.85 1765.5 698.74 1773.58 712.91" stroke-opacity="0.65"/>
<path d="M1587.87 439.57 1595.95 446.68 1604.02 454.11 1612.1 460.29 1620.17 469.54 1628.24 474.83 1636.32 476.46 1644.39 486.09 1652.47 488.57 1660.54 503.83 1668.61 527.68 1676.69 567.02 1684.76 626.75 1692.84 686.52 1700.91 702.9" stroke-opacity="0.3"/>
<path d="M1587.87 442.04 1595.95 447.69 1604.02 452.44 1612.1 455.69 1620.17 466.18 1628.24 468.36 1636.32 476.26 1644.39 478.76 1652.47 495.48 1660.54 497.45 1668.61 507.83 1676.69 522.23 1684.76 543.39 1692.84 573.6 1700.91 639.65 1708.98 709.02 1717.06 727.03" stroke-opacity="0.3"/>
<path d="M1587.87 439.2 1595.95 451.7 1604.02 455.77 1612.1 466.42 1620.17 470.99 1628.24 478.49 1636.32 486.23 1644.39 504.34 1652.47 529.36 1660.54 576.77 1668.61 636.67 1676.69 707.2 1684.76 721.84" stroke-opacity="0.35"/>
<path d="M1587.87 442.16 1595.95 444.27 1604.02 449.73 1612.1 454.95 1620.17 457.24 1628.24 461.98 1636.32 465.36 1644.39 470.07 1652.47 474.82 1660.54 476.82 1668.61 481.68 1676.69 482.09 1684.76 491.1 1692.84 491.51 1700.91 494.26 1708.98 494.67 1717.06 501.44 1725.13 517.15 1733.21 541.21 1741.28 579 1749.35 642.31 1757.43 688.11 1765.5 702.09" stroke-opacity="0.4"/>
<path d="M1587.87 441.22 1595.95 448.56 1604.02 454.34 1612.1 460.02 1620.17 464.62 1628.24 469.35 1636.32 475.11 1644.39 478.73 1652.47 484.58 1660.54 486.53 1668.61 489.06 1676.69 495.1 1684.76 499.72 1692.84 507.18 1700.91 511.62 1708.98 516.95 1717.06 517.36 1725.13 534.3 1733.21 560.71 1741.28 596.03 1749.35 651.71 1757.43 708.15 1765.5 720.51" stroke-opacity="1"/>
<path d="M1587.87 438.53 1595.95 441.71 1604.02 445.55 1612.1 448.69 1620.17 451.63 1628.24 454.49 1636.32 456.86 1644.39 463.07 1652.47 466.35 1660.54 469.08 1668.61 471.1 1676.69 476.67 1684.76 477.08 1692.84 484.14 1700.91 484.55 1708.98 487.13 1717.06 503.04 1725.13 523.33 1733.21 569.62 1741.28 633.39 1749.35 695.2 1757.43 711.15" stroke-opacity="0.65"/>
<path d="M1587.87 440.52 1595.95 443.01 1604.02 447.1 1612.1 447.51 1620.17 450.98 1628.24 455.44 1636.32 459.11 1644.39 462.61 1652.47 466.19 1660.54 467.71 1668.61 468.85 1676.69 471 1684.76 473.59 1692.84 474 1700.91 481.03 1708.98 497.58 1717.06 519.76 1725.13 566.3 1733.21 635.27 1741.28 692.74 1749.35 706.33" stroke-opacity="1"/>
<path d="M1587.87 442.51 1595.95 450.87 1604.02 459.91 1612.1 468.67 1620.17 473.39 1628.24 476.03 1636.32 484.97 1644.39 487.56 1652.47 492.55 1660.54 493.72 1668.61 498.63 1676.69 504.23 1684.76 504.64 1692.84 509.73 1700.91 510.6 1708.98 523.35 1717.06 544.12 1725.13 578.64 1733.21 637.71 1741.28 689.18 1749.35 704.01" stroke-opacity="0.65"/>
<path d="M1587.87 439.24 1595.95 446.05 1604.02 446.46 1612.1 449.18 1620.17 457.85 1628.24 458.25 1636.32 462.42 1644.39 467.48 1652.47 475.13 1660.54 477.14 1668.61 477.55 1676.69 477.96 1684.76 484.29 1692.84 487.79 1700.91 506.89 1708.98 535.37 1717.06 578.62 1725.13 643.49 1733.21 692.42 1741.28 705.08" stroke-opacity="0.4"/>
<path d="M1587.87 439.09 1595.95 445.23 1604.02 451.28 1612.1 457.5 1620.17 461.92 1628.24 464.37 1636.32 470.97 1644.39 474.61 1652.47 476.7 1660.54 482.89 1668.61 484.9 1676.69 488.49 1684.76 493.75 1692.84 496.61 1700.91 501.59 1708.98 502 1717.06 508.97 1725.13 509.37 1733.21 509.78 1741.28 513.32 1749.35 514.94 1757.43 529.65 1765.5 553.51 1773.58 592.02 1781.65 648.01 1789.72 712.37 1797.8 727.9" stroke-opacity="0.3"/>
<path d="M1587.87 437.88 1595.95 449.22 1604.02 456.87 1612.1 464.32 1620.17 470.02 1628.24 480.31 1636.32 480.72 1644.39 481.13 1652.47 501.41 1660.54 532.09 1668.61 572.3 1676.69 641.76 1684.76 696.45 1692.84 721.12" stroke-opacity="0.35"/>
<path d="M1587.87 443.47 1595.95 450.35 1604.02 455.08 1612.1 461.53 1620.17 471.31 1628.24 474.78 1636.32 483.07 1644.39 487.59 1652.47 498.49 1660.54 500.03 1668.61 511.78 1676.69 516.6 1684.76 534.44 1692.84 560.02 1700.91 588.77 1708.98 648.06 1717.06 696.53 1725.13 712.23" stroke-opacity="0.8"/>
<path d="M1587.87 440.97 1595.95 446.75 1604.02 450.15 1612.1 457.7 1620.17 461.88 1628.24 466.54 1636.32 471.53 1644.39 474.26 1652.47 477.54 1660.54 483.5 1668.61 487.02 1676.69 487.98 1684.76 488.39 1692.84 494.12 1700.91 501.16 1708.98 501.57 1717.06 503.25 1725.13 517.17 1733.21 539.12 1741.28 578.15 1749.35 624.12 1757.43 683.95 1765.5 701.36" stroke-opacity="0.8"/>
<path d="M1587.87 440.98 1595.95 444.47 1604.02 445.7 1612.1 450.76 1620.17 457.16 1628.24 458.01 1636.32 461.83 1644.39 470.19 1652.47 470.6 1660.54 477.83 1668.61 491.91 1676.69 516.62 1684.76 565.66 1692.84 630.78 1700.91 695.31 1708.98 715.43" stroke-opacity="0.65"/>
<path d="M1587.87 442.8 1595.95 448.23 1604.02 448.64 1612.1 452.39 1620.17 453.86 1628.24 459.39 1636.32 459.8 1644.39 463.95 1652.47 468.47 1660.54 468.88 1668.61 469.56 1676.69 477.31 1684.76 477.72 1692.84 482.19 1700.91 484.04 1708.98 488.34 1717.06 493.62 1725.13 499.23 1733.21 499.64 1741.28 507.89 1749.35 509.88 1757.43 511.76 1765.5 518.2 1773.58 535.94 1781.65 569.07 1789.72 613.31 1797.8 662.3 1805.87 711.56 1813.95 726.23" stroke-opacity="0.4"/>
<path d="M1587.87 442.93 1595.95 448.05 1604.02 452.77 1612.1 455.36 1620.17 461.54 1628.24 464.04 1636.32 470.82 1644.39 476.71 1652.47 479.24 1660.54 482.77 1668.61 486.78 1676.69 492.08 1684.76 497.03 1692.84 508.36 1700.91 514.18 1708.98 518.45 1717.06 531.57 1725.13 556.09 1733.21 598.08 1741.28 640.64 1749.35 708.57 1757.43 721.88" stroke-opacity="0.65"/>
<path d="M1587.87 438.67 1595.95 450.1 1604.02 457.75 1612.1 465.79 1620.17 476.36 1628.24 479.69 1636.32 484.31 1644.39 489.01 1652.47 495.92 1660.54 496.33 1668.61 502.6 1676.69 503.01 1684.76 504.91 1692.84 525.8 1700.91 551.31 1708.98 593.66 1717.06 640.53 1725.13 712.83 1733.21 729.87" stroke-opacity="0.65"/>
<path d="M1587.87 438.76 1595.95 444.05 1604.02 447.71 1612.1 449.31 1620.17 454.28 1628.24 456.62 1636.32 459.99 1644.39 464.33 1652.47 474.23 1660.54 474.64 1668.61 475.05 1676.69 483.4 1684.76 483.81 1692.84 489.88 1700.91 496.48 1708.98 500.46 1717.06 500.87 1725.13 503.36 1733.21 511.32 1741.28 515.16 1749.35 517.57 1757.43 534.47 1765.5 565.61 1773.58 603.33 1781.65 661.74 1789.72 713.95 1797.8 728.99" stroke-opacity="0.5"/>
<path d="M1587.87 439 1595.95 446.44 1604.02 457.23 1612.1 463.01 1620.17 470.15 1628.24 477.29 1636.32 492.83 1644.39 496.93 1652.47 510.86 1660.54 536.85 1668.61 581.79 1676.69 645.67 1684.76 703.43 1692.84 719.32" stroke-opacity="0.35"/>
<path d="M1587.87 438.58 1595.95 445.59 1604.02 452.37 1612.1 458.49 1620.17 463.47 1628.24 466.41 1636.32 475.02 1644.39 475.43 1652.47 476.25 1660.54 482.36 1668.61 482.89 1676.69 492.59 1684.76 495.49 1692.84 497.41 1700.91 497.82 1708.98 513.69 1717.06 544.71 1725.13 592.13 1733.21 637.45 1741.28 701.18 1749.35 715.38" stroke-opacity="0.65"/>
<path d="M1587.87 438.4 1595.95 442.87 1604.02 452.46 1612.1 456.51 1620.17 463.7 1628.24 466.46 1636.32 469.84 1644.39 478.22 1652.47 485.35 1660.54 485.76 1668.61 487.31 1676.69 487.72 1684.76 500.3 1692.84 500.71 1700.91 514.67 1708.98 547.93 1717.06 585.18 1725.13 629.83 1733.21 684.12 1741.28 700.46" stroke-opacity="0.5"/>
<path d="M1587.87 440.49 1595.95 447.47 1604.02 452.7 1612.1 459.65 1620.17 463.75 1628.24 472.23 1636.32 477.14 1644.39 480.17 1652.47 480.72 1660.54 485.52 1668.61 485.93 1676.69 496.55 1684.76 502.83 1692.84 503.24 1700.91 503.65 1708.98 520.34 1717.06 553.67 1725.13 594.51 1733.21 649.12 1741.28 710.61 1749.35 724.6" stroke-opacity="0.5"/>
<path d="M1587.87 441.42 1595.95 448.63 1604.02 458.45 1612.1 465.68 1620.17 472.87 1628.24 476.93 1636.32 479.42 1644.39 492.45 1652.47 492.86 1660.54 501.28 1668.61 507.42 1676.69 509.69 1684.76 513.13 1692.84 518.11 1700.91 535.32 1708.98 555.04 1717.06 592.46 1725.13 647.88 1733.21 709.5 1741.28 721.83" stroke-opacity="0.8"/>
<path d="M1587.87 437.84 1595.95 443.42 1604.02 445.41 1612.1 448.73 1620.17 456.23 1628.24 462.46 1636.32 464.1 1644.39 468.25 1652.47 472.71 1660.54 473.11 1668.61 482.93 1676.69 483.34 1684.76 487.4 1692.84 505.6 1700.91 534 1708.98 569.98 1717.06 638.38 1725.13 691.79 1733.21 706.86" stroke-opacity="0.5"/>
<path d="M1587.87 439.54 1595.95 443.88 1604.02 445.52 1612.1 452.13 1620.17 453.54 1628.24 460.58 1636.32 462.23 1644.39 463.78 1652.47 464.65 1660.54 473.63 1668.61 475.53 1676.69 493.58 1684.76 517.22 1692.84 563.78 1700.91 636.15 1708.98 704.32 1717.06 721.87" stroke-opacity="0.3"/>
<path d="M1587.87 441.54 1595.95 450.33 1604.02 455.19 1612.1 462.86 1620.17 466.8 1628.24 475.76 1636.32 476.16 1644.39 485.9 1652.47 499.99 1660.54 527.1 1668.61 562.57 1676.69 622.09 1684.76 686.79 1692.84 704.4" stroke-opacity="0.35"/>
<path d="M1587.87 440.03 1595.95 452.93 1604.02 465.28 1612.1 472.85 1620.17 482.42 1628.24 492.05 1636.32 496.48 1644.39 507.55 1652.47 512.23 1660.54 514.65 1668.61 516.77 1676.69 521.8 1684.76 536.66 1692.84 561.41 1700.91 605.56 1708.98 655.84 1717.06 702.82 1725.13 722.33" stroke-opacity="0.8"/>
<path d="M1587.87 443.15 1595.95 447.21 1604.02 451.08 1612.1 452.57 1620.17 454.81 1628.24 455.22 1636.32 458.9 1644.39 461.19 1652.47 461.6 1660.54 462.01 1668.61 465.56 1676.69 470.78 1684.76 471.19 1692.84 471.6 1700.91 472.01 1708.98 472.42 1717.06 473.53 1725.13 478.77 1733.21 480.65 1741.28 481.06 1749.35 486.41 1757.43 486.82 1765.5 487.23 1773.58 487.64 1781.65 502.34 1789.72 534.85 1797.8 574.86 1805.87 627.6 1813.95 688.91 1822.02 704.31" stroke-opacity="0.5"/>
<path d="M1587.87 438.23 1604.02 448.45 1628.24 460.73 1652.47 468.91 1684.76 470.95 1741.28 470.95 1781.65 471.97 1822.02 475.04 1846.24 479.13 1862.39 480.16 1870.46 481.18 1878.54 487.31 1886.61 520.04 1894.69 534.36 1902.76 571.17 1910.83 612.08 1918.91 652.99 1926.98 695.94 1935.06 718.44" stroke-opacity="0.55"/>
<path d="M1587.87 442.83 1595.95 448.94 1604.02 458.79 1612.1 468.41 1620.17 471.09 1628.24 477.59 1636.32 484.58 1644.39 484.99 1652.47 497.22 1660.54 497.63 1668.61 508.25 1676.69 508.66 1684.76 509.07 1692.84 517.43 1700.91 530.56 1708.98 554.61 1717.06 587.51 1725.13 649.78 1733.21 702.46 1741.28 716.49" stroke-opacity="0.65"/>
<path d="M1587.87 441.71 1595.95 449.45 1604.02 454.3 1612.1 467.03 1620.17 472.57 1628.24 472.98 1636.32 482.14 1644.39 488.74 1652.47 494.52 1660.54 497.27 1668.61 497.68 1676.69 504.96 1684.76 519.45 1692.84 541.42 1700.91 589.39 1708.98 637.4 1717.06 694.56 1725.13 712.45" stroke-opacity="0.65"/>
<path d="M1587.87 440.24 1595.95 446.71 1604.02 454.92 1612.1 459.21 1620.17 467.78 1628.24 473.38 1636.32 476.95 1644.39 489.38 1652.47 489.79 1660.54 494.46 1668.61 495.52 1676.69 510.19 1684.76 532.84 1692.84 566.48 1700.91 622.21 1708.98 683.04 1717.06 701.34" stroke-opacity="0.65"/>
<path d="M1587.87 440.12 1595.95 446.62 1604.02 451.39 1612.1 453.84 1620.17 459.09 1628.24 460.98 1636.32 468.93 1644.39 472.47 1652.47 476.52 1660.54 480.36 1668.61 481.55 1676.69 484.85 1684.76 501.23 1692.84 538.99 1700.91 591.55 1708.98 647.48 1717.06 707.18 1725.13 727.09" stroke-opacity="0.5"/>
<path d="M1587.87 441.95 1595.95 445.43 1604.02 452.34 1612.1 455.22 1620.17 458.28 1628.24 467.84 1636.32 472.56 1644.39 476.23 1652.47 479.11 1660.54 481.86 1668.61 491.04 1676.69 499.42 1684.76 503.99 1692.84 507.32 1700.91 521.85 1708.98 546.19 1717.06 579.34 1725.13 632.38 1733.21 695.89 1741.28 710.76" stroke-opacity="0.5"/>
<path d="M1587.87 440.71 1595.95 442.67 1604.02 443.67 1612.1 445.74 1620.17 451.28 1628.24 459.62 1636.32 461.21 1644.39 465.4 1652.47 465.81 1660.54 474.02 1668.61 474.43 1676.69 478.62 1684.76 484.97 1692.84 485.38 1700.91 495.41 1708.98 510.38 1717.06 537.2 1725.13 584.95 1733.21 644.63 1741.28 697.17 1749.35 714.22" stroke-opacity="0.65"/>
<path d="M1587.87 438.27 1595.95 444.05 1604.02 447.84 1612.1 453.87 1620.17 457.91 1628.24 462.02 1636.32 465.38 1644.39 472.08 1652.47 472.85 1660.54 480.92 1668.61 481.33 1676.69 483.18 1684.76 489.88 1692.84 490.29 1700.91 497.13 1708.98 497.54 1717.06 500.57 1725.13 500.98 1733.21 501.39 1741.28 505.76 1749.35 527.28 1757.43 552.38 1765.5 585.83 1773.58 635.13 1781.65 710.47 1789.72 732.75" stroke-opacity="0.65"/>
<path d="M1587.87 442.68 1595.95 452.64 1604.02 466.44 1612.1 475.37 1620.17 486.13 1628.24 493.52 1636.32 507.44 1644.39 512.07 1652.47 523.03 1660.54 549.03 1668.61 578.41 1676.69 632.34 1684.76 689.74 1692.84 706.72" stroke-opacity="0.35"/>
<path d="M1587.87 439.68 1595.95 447.02 1604.02 451.07 1612.1 453.72 1620.17 458.79 1628.24 464.86 1636.32 467.78 1644.39 473.51 1652.47 481.03 1660.54 486.39 1668.61 488.12 1676.69 488.53 1684.76 495.79 1692.84 500.66 1700.91 501.22 1708.98 518.23 1717.06 547.05 1725.13 585.56 1733.21 642.84 1741.28 702.28 1749.35 722.91" stroke-opacity="0.4"/>
<path d="M1587.87 442.31 1595.95 446.15 1604.02 447.11 1612.1 451.1 1620.17 451.51 1628.24 456.48 1636.32 457.74 1644.39 458.83 1652.47 463.31 1660.54 463.72 1668.61 468.95 1676.69 476.26 1684.76 476.67 1692.84 480.13 1700.91 482.98 1708.98 501.2 1717.06 526.57 1725.13 572.9 1733.21 629.66 1741.28 681.94 1749.35 701.61" stroke-opacity="0.8"/>
<path d="M1587.87 439.06 1595.95 445.92 1604.02 454.25 1612.1 462.66 1620.17 468.9 1628.24 473.56 1636.32 475.97 1644.39 483.87 1652.47 488.15 1660.54 495.03 1668.61 495.44 1676.69 497.17 1684.76 500.35 1692.84 515.82 1700.91 538.1 1708.98 580.31 1717.06 625.82 1725.13 693.22 1733.21 707.06" stroke-opacity="0.3"/>
<path d="M1587.87 443.29 1595.95 448.5 1604.02 452.68 1612.1 454.15 1620.17 464.07 1628.24 466.85 1636.32 477.14 1644.39 479.58 1652.47 495.32 1660.54 496.47 1668.61 507.96 1676.69 516.97 1684.76 533.32 1692.84 553.28 1700.91 595.56 1708.98 649.76 1717.06 694.47 1725.13 707.53" stroke-opacity="0.8"/>
<path d="M1587.87 440.41 1595.95 444.8 1604.02 448.06 1612.1 453.32 1620.17 456.37 1628.24 457.57 1636.32 465.98 1644.39 471.06 1652.47 475.78 1660.54 479.16 1668.61 480.71 1676.69 485.38 1684.76 486.22 1692.84 489.17 1700.91 505.24 1708.98 506.96 1717.06 507.37 1725.13 511.65 1733.21 526.12 1741.28 553.37 1749.35 584.58 1757.43 634.74 1765.5 694.75 1773.58 708.8" stroke-opacity="0.8"/>
<path d="M1587.87 441.07 1595.95 445.22 1604.02 446.68 1612.1 450.29 1620.17 451.1 1628.24 453.39 1636.32 455.9 1644.39 459.59 1652.47 464.38 1660.54 464.79 1668.61 468.35 1676.69 472.61 1684.76 478.12 1692.84 478.53 1700.91 492.08 1708.98 514.27 1717.06 558.07 1725.13 609.22 1733.21 680.48 1741.28 701.87" stroke-opacity="0.3"/>
<path d="M1587.87 440.66 1595.95 442.33 1604.02 446.75 1612.1 449.73 1620.17 453.89 1628.24 456.2 1636.32 456.61 1644.39 469.84 1652.47 470.25 1660.54 478.64 1668.61 481.29 1676.69 498.11 1684.76 521.08 1692.84 560.68 1700.91 624.42 1708.98 687.1 1717.06 705.29" stroke-opacity="0.8"/>
<path d="M1587.87 441.95 1595.95 444.12 1604.02 448.38 1612.1 448.79 1620.17 456 1628.24 456.63 1636.32 459.65 1644.39 461.05 1652.47 468.44 1660.54 469.5 1668.61 476.66 1676.69 477.32 1684.76 478.72 1692.84 490.38 1700.91 494.24 1708.98 510.39 1717.06 538.51 1725.13 568.8 1733.21 626.89 1741.28 686.59 1749.35 703.98" stroke-opacity="1"/>
<path d="M1587.87 440.94 1595.95 447.5 1604.02 450.81 1612.1 456.02 1620.17 460.45 1628.24 463.83 1636.32 477.71 1644.39 484.63 1652.47 488.48 1660.54 504.72 1668.61 510.6 1676.69 516.7 1684.76 532.95 1692.84 559.05 1700.91 596.41 1708.98 651.95 1717.06 698.46 1725.13 715.01" stroke-opacity="1"/>
<path d="M1587.87 437.85 1595.95 453.47 1604.02 468.09 1612.1 481.73 1620.17 489.01 1628.24 499.78 1636.32 503.05 1644.39 508.7 1652.47 522.96 1660.54 542.68 1668.61 577.96 1676.69 639.72 1684.76 704 1692.84 723.32" stroke-opacity="0.35"/>
<path d="M1587.87 439.56 1595.95 444.81 1604.02 450.9 1612.1 454.38 1620.17 456.05 1628.24 457.75 1636.32 464.62 1644.39 466.22 1652.47 469.92 1660.54 472.88 1668.61 473.29 1676.69 473.77 1684.76 475.23 1692.84 494.25 1700.91 519.36 1708.98 557.84 1717.06 632.82 1725.13 689.68 1733.21 705.61" stroke-opacity="1"/>
<path d="M1587.87 441.48 1595.95 447.96 1604.02 462.63 1612.1 468.98 1620.17 473.2 1628.24 477.6 1636.32 479.88 1644.39 484.13 1652.47 486.98 1660.54 506.56 1668.61 534.37 1676.69 577.83 1684.76 651.72 1692.84 705.42 1700.91 721.4" stroke-opacity="1"/>
<path d="M1587.87 438.79 1595.95 439.2 1604.02 443.59 1612.1 447.26 1620.17 447.68 1628.24 452.82 1636.32 453.23 1644.39 457.35 1652.47 457.76 1660.54 458.23 1668.61 463.58 1676.69 463.98 1684.76 469.46 1692.84 472.44 1700.91 472.85 1708.98 476.49 1717.06 476.9 1725.13 479.16 1733.21 497.76 1741.28 522.57 1749.35 578.81 1757.43 639.52 1765.5 700.12 1773.58 717.86" stroke-opacity="0.5"/>
<path d="M1587.87 442.72 1595.95 451.03 1604.02 458.26 1612.1 466.53 1620.17 470.29 1628.24 471.76 1636.32 480.75 1644.39 486.06 1652.47 490.08 1660.54 492.11 1668.61 494.17 1676.69 505.17 1684.76 522.03 1692.84 541.21 1700.91 581.72 1708.98 638.59 1717.06 694.85 1725.13 710.64" stroke-opacity="0.5"/>
<path d="M1587.87 440.29 1595.95 443.56 1604.02 448.57 1612.1 450.89 1620.17 456.54 1628.24 456.95 1636.32 459.44 1644.39 465.02 1652.47 468.96 1660.54 471.34 1668.61 476.45 1676.69 476.86 1684.76 481.2 1692.84 482.64 1700.91 506.8 1708.98 541.42 1717.06 597.5 1725.13 649.51 1733.21 710.55 1741.28 725.52" stroke-opacity="0.5"/>
<path d="M1587.87 440.42 1595.95 445.01 1604.02 448.84 1612.1 451.6 1620.17 458.29 1628.24 460.85 1636.32 462.4 1644.39 467.98 1652.47 473.97 1660.54 474.38 1668.61 474.78 1676.69 477.4 1684.76 478.91 1692.84 479.31 1700.91 481.51 1708.98 487.28 1717.06 488.55 1725.13 511.78 1733.21 536.55 1741.28 591.37 1749.35 649.63 1757.43 711.82 1765.5 728.77" stroke-opacity="1"/>
<path d="M1587.87 439.36 1595.95 444.32 1604.02 450.68 1612.1 456.96 1620.17 459.36 1628.24 460.02 1636.32 468.96 1644.39 469.37 1652.47 469.78 1660.54 470.7 1668.61 477.9 1676.69 494.76 1684.76 533 1692.84 589.4 1700.91 639.59 1708.98 708.69 1717.06 731.71" stroke-opacity="0.8"/>
<path d="M1587.87 437.2 1604.02 450.5 1628.24 464.82 1652.47 473 1684.76 475.04 1741.28 476.07 1781.65 477.09 1822.02 481.18 1846.24 486.29 1862.39 488.34 1878.54 489.36 1886.61 495.5 1894.69 522.09 1902.76 548.67 1910.83 618.22 1918.91 659.12 1926.98 706.17 1935.06 728.66" stroke-opacity="0.55"/>
<path d="M1587.87 438.59 1595.95 443.63 1604.02 449.41 1612.1 451.23 1620.17 453.15 1628.24 459.79 1636.32 460.92 1644.39 467.26 1652.47 473.32 1660.54 473.72 1668.61 483.17 1676.69 483.58 1684.76 483.99 1692.84 485.26 1700.91 489.12 1708.98 493.03 1717.06 499.85 1725.13 502.89 1733.21 503.3 1741.28 506.59 1749.35 512.3 1757.43 512.71 1765.5 528.25 1773.58 548.23 1781.65 578.49 1789.72 642.14 1797.8 686.9 1805.87 706.63" stroke-opacity="0.4"/>
<path d="M1587.87 439.74 1595.95 446.58 1604.02 455.55 1612.1 464.25 1620.17 472.61 1628.24 474.54 1636.32 474.95 1644.39 485.43 1652.47 487.67 1660.54 488.08 1668.61 490.41 1676.69 492.12 1684.76 512.66 1692.84 534.73 1700.91 580.38 1708.98 638.24 1717.06 709.71 1725.13 729.93" stroke-opacity="0.65"/>
<path d="M1587.87 438.23 1604.02 448.45 1628.24 466.86 1652.47 481.18 1676.69 489.36 1708.98 493.45 1741.28 496.52 1781.65 498.56 1797.8 499.59 1813.95 501.63 1822.02 507.77 1830.09 515.95 1838.17 560.95 1846.24 583.45 1854.32 675.49 1862.39 708.21 1870.46 726.62" stroke-opacity="0.55"/>
<path d="M1587.87 439.37 1595.95 443.77 1604.02 446.62 1612.1 454.71 1620.17 455.73 1628.24 463.87 1636.32 464.28 1644.39 466.19 1652.47 468.31 1660.54 478.3 1668.61 479.16 1676.69 479.57 1684.76 485.04 1692.84 485.69 1700.91 488.75 1708.98 505.78 1717.06 537.56 1725.13 580.22 1733.21 638.49 1741.28 711.44 1749.35 725.02" stroke-opacity="0.5"/>
</g>
<path d="M1579.8 428 H1983.5 V734.8 H1579.8 ZM1660.54 734.8 v-3.8M1660.54 428 v3.8M1741.28 734.8 v-3.8M1741.28 428 v3.8M1822.02 734.8 v-3.8M1822.02 428 v3.8M1902.76 734.8 v-3.8M1902.76 428 v3.8M1579.8 530.27 h3.8M1983.5 530.27 h-3.8M1579.8 632.53 h3.8M1983.5 632.53 h-3.8M1579.8 448.45 h2.09M1983.5 448.45 h-2.09M1579.8 468.91 h2.09M1983.5 468.91 h-2.09M1579.8 489.36 h2.09M1983.5 489.36 h-2.09M1579.8 509.81 h2.09M1983.5 509.81 h-2.09M1579.8 550.72 h2.09M1983.5 550.72 h-2.09M1579.8 571.17 h2.09M1983.5 571.17 h-2.09M1579.8 591.63 h2.09M1983.5 591.63 h-2.09M1579.8 612.08 h2.09M1983.5 612.08 h-2.09M1579.8 652.99 h2.09M1983.5 652.99 h-2.09M1579.8 673.44 h2.09M1983.5 673.44 h-2.09M1579.8 693.89 h2.09M1983.5 693.89 h-2.09M1579.8 714.35 h2.09M1983.5 714.35 h-2.09" fill="none" stroke="#555" stroke-width="1.15"/>
<text x="1579.8" y="766.9" font-size="23" fill="#1c1c1c" text-anchor="middle">0</text>
<text x="1660.54" y="766.9" font-size="23" fill="#1c1c1c" text-anchor="middle" textLength="22.6" lengthAdjust="spacingAndGlyphs">10</text>
<text x="1741.28" y="766.9" font-size="23" fill="#1c1c1c" text-anchor="middle" textLength="22.6" lengthAdjust="spacingAndGlyphs">20</text>
<text x="1822.02" y="766.9" font-size="23" fill="#1c1c1c" text-anchor="middle" textLength="22.6" lengthAdjust="spacingAndGlyphs">30</text>
<text x="1902.76" y="766.9" font-size="23" fill="#1c1c1c" text-anchor="middle" textLength="22.6" lengthAdjust="spacingAndGlyphs">40</text>
<text x="1983.5" y="766.9" font-size="23" fill="#1c1c1c" text-anchor="middle" textLength="22.6" lengthAdjust="spacingAndGlyphs">50</text>
<text x="1572.2" y="439.7" font-size="23.5" text-anchor="end" fill="#1c1c1c" textLength="31" lengthAdjust="spacingAndGlyphs">10<tspan font-size="19.5" dy="-10.9">0</tspan></text>
<text x="1572.2" y="541.97" font-size="23.5" text-anchor="end" fill="#1c1c1c" textLength="37.4" lengthAdjust="spacingAndGlyphs">10<tspan font-size="19.5" dy="-10.9">-5</tspan></text>
<text x="1572.2" y="644.23" font-size="23.5" text-anchor="end" fill="#1c1c1c" textLength="46.8" lengthAdjust="spacingAndGlyphs">10<tspan font-size="19.5" dy="-10.9">-10</tspan></text>
<text x="1572.2" y="746.5" font-size="23.5" text-anchor="end" fill="#1c1c1c" textLength="46.8" lengthAdjust="spacingAndGlyphs">10<tspan font-size="19.5" dy="-10.9">-15</tspan></text>
<text transform="translate(1511 581) rotate(-90)" font-size="26" text-anchor="middle" fill="#1c1c1c" textLength="148" lengthAdjust="spacingAndGlyphs">Norm (log<tspan font-size="18.5" dy="4.5">10</tspan><tspan dy="-4.5">)</tspan></text>
<text x="1781.4" y="797.6" font-size="26" fill="#1c1c1c" text-anchor="middle" textLength="107.5" lengthAdjust="spacingAndGlyphs">Iterations</text>
</g>
<text font-weight="bold" fill="#111" y="48"><tspan x="22.84" font-size="36.4" font-weight="normal" stroke="#111" stroke-width="0.6">(</tspan><tspan x="35.51" font-size="28.5" textLength="19.78" lengthAdjust="spacingAndGlyphs">a</tspan><tspan x="55.41" font-size="36.4" font-weight="normal" stroke="#111" stroke-width="0.6">)</tspan></text>
<text font-weight="bold" fill="#111" y="34.1"><tspan x="1490.64" font-size="36.4" font-weight="normal" stroke="#111" stroke-width="0.6">(</tspan><tspan x="1504.42" font-size="32.5" textLength="20.93" lengthAdjust="spacingAndGlyphs">b</tspan><tspan x="1525.91" font-size="36.4" font-weight="normal" stroke="#111" stroke-width="0.6">)</tspan></text>
<text font-weight="bold" fill="#111" y="400.9"><tspan x="1493.04" font-size="36.4" font-weight="normal" stroke="#111" stroke-width="0.6">(</tspan><tspan x="1505.73" font-size="28.5" textLength="17.3" lengthAdjust="spacingAndGlyphs">c</tspan><tspan x="1523.51" font-size="36.4" font-weight="normal" stroke="#111" stroke-width="0.6">)</tspan></text>
</svg></body></html>
